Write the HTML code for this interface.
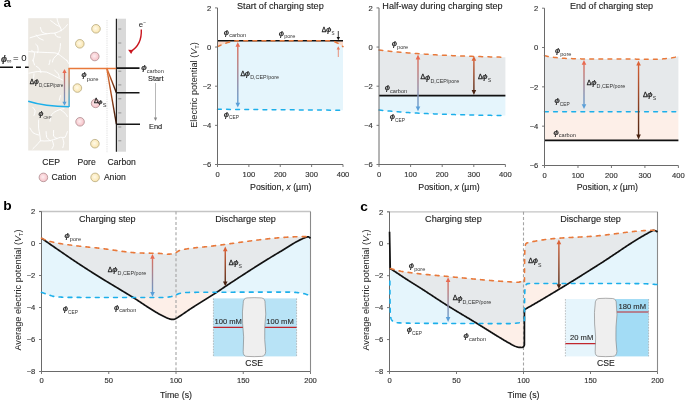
<!DOCTYPE html><html><head><meta charset="utf-8"><style>html,body{margin:0;padding:0;background:#fff;}svg{display:block;will-change:transform;}</style></head><body>
<svg width="685" height="400" viewBox="0 0 685 400" font-family='"Liberation Sans", sans-serif'>
<rect width="685" height="400" fill="#fff"/>
<text transform="translate(3.4 6.6) scale(1.08 1)" font-size="12.5" font-weight="bold" fill="#000">a</text>
<rect x="28.2" y="18.2" width="40.8" height="132.3" fill="#ece8e1"/>
<path d="M50.7 20.6 Q54 23 55.9 24.6 Q59 26 60.5 27.5 Q61.5 29 61.1 30.9" fill="none" stroke="#ffffff" stroke-width="0.95" stroke-linecap="round"/>
<path d="M57 18.3 Q57.5 21 58.2 22.9 Q59 25 60.5 27.5" fill="none" stroke="#ffffff" stroke-width="0.95" stroke-linecap="round"/>
<path d="M67.4 24.6 Q65.5 27 63.9 28.6 Q62.5 29.8 61.1 30.4" fill="none" stroke="#ffffff" stroke-width="0.95" stroke-linecap="round"/>
<path d="M30 37.8 Q34 36.5 37.5 35.5 Q42 34.5 46.7 33.8 Q51 33 54.7 33.2 Q58.5 32 61.1 30.4" fill="none" stroke="#ffffff" stroke-width="0.95" stroke-linecap="round"/>
<path d="M40.4 27.5 Q40.8 30 42.1 32.1 Q44 33.3 46.7 33.8" fill="none" stroke="#ffffff" stroke-width="0.95" stroke-linecap="round"/>
<path d="M36.3 35 Q37.2 36.5 38.6 37.8 Q41 39.3 43.2 40.1" fill="none" stroke="#ffffff" stroke-width="0.95" stroke-linecap="round"/>
<path d="M54.7 33.2 Q55.5 35.5 57 36.7 Q58.8 37.3 60.5 37.3" fill="none" stroke="#ffffff" stroke-width="0.95" stroke-linecap="round"/>
<path d="M28.9 51.6 Q34 52 39.8 52.2 Q47 52.5 54.7 52.8 Q56.5 53.2 58.2 53.9" fill="none" stroke="#ffffff" stroke-width="0.95" stroke-linecap="round"/>
<path d="M35.8 44.2 Q36.8 45 37.5 45.9 Q38.2 48 38.1 50.5 Q38 51.8 37.5 52.8" fill="none" stroke="#ffffff" stroke-width="0.95" stroke-linecap="round"/>
<path d="M31.7 50.5 Q33.5 51.5 34.6 52.8 Q34.6 55 34 57.4 Q33.5 59.3 32.9 60.8" fill="none" stroke="#ffffff" stroke-width="0.95" stroke-linecap="round"/>
<path d="M60.5 43.6 Q60.4 46.5 59.9 49.3 Q59.3 51.8 58.2 53.9 Q55.5 56 53.6 58.5 Q52.6 60.3 52.4 62" fill="none" stroke="#ffffff" stroke-width="0.95" stroke-linecap="round"/>
<path d="M58.2 53.9 Q60.5 55.5 62.8 57.4 Q65.5 59.3 67.4 61.4" fill="none" stroke="#ffffff" stroke-width="0.95" stroke-linecap="round"/>
<path d="M32.9 60 Q33.8 63 34.6 65" fill="none" stroke="#ffffff" stroke-width="0.95" stroke-linecap="round"/>
<path d="M28.9 73.2 Q33 72.2 37.5 71.5 Q42 71.6 46.7 72.1 Q52 74.5 57 77.2 Q60 78.6 62.8 80.1" fill="none" stroke="#ffffff" stroke-width="0.95" stroke-linecap="round"/>
<path d="M36.3 66.3 Q38.3 67.5 39.8 69.2 Q40.6 71 40.9 72.6" fill="none" stroke="#ffffff" stroke-width="0.95" stroke-linecap="round"/>
<path d="M50.1 60 Q49.8 62.5 49 64.6" fill="none" stroke="#ffffff" stroke-width="0.95" stroke-linecap="round"/>
<path d="M54.7 70.3 Q56.8 72 58.2 73.8 Q59 75.5 59.3 77.2" fill="none" stroke="#ffffff" stroke-width="0.95" stroke-linecap="round"/>
<path d="M66.8 60 Q67.8 61.6 68.5 63.4" fill="none" stroke="#ffffff" stroke-width="0.95" stroke-linecap="round"/>
<path d="M34 73.8 Q33.9 76 33.5 78.4" fill="none" stroke="#ffffff" stroke-width="0.95" stroke-linecap="round"/>
<path d="M60.5 95.6 Q59.8 98 59.3 100.2" fill="none" stroke="#ffffff" stroke-width="0.95" stroke-linecap="round"/>
<path d="M32.9 107.4 Q34.5 109 35.2 110.9 Q34.9 113.5 34 115.5" fill="none" stroke="#ffffff" stroke-width="0.95" stroke-linecap="round"/>
<path d="M64 108.6 Q61.5 108.8 59.3 109.7 Q56 111 53.6 112.6 Q51.5 114.5 50.7 116.6 Q50.2 119 50.1 121.2" fill="none" stroke="#ffffff" stroke-width="0.95" stroke-linecap="round"/>
<path d="M60.5 109.7 Q63 111.3 65.1 113.2 Q66.7 114.8 67.4 116.6" fill="none" stroke="#ffffff" stroke-width="0.95" stroke-linecap="round"/>
<path d="M38.6 120.1 Q38.5 124 38.6 128.1 Q39.2 131.5 39.8 135 Q40.3 138 40.4 140.8 Q37.8 143.8 35.2 146.5 Q34 147.8 32.9 148.8" fill="none" stroke="#ffffff" stroke-width="0.95" stroke-linecap="round"/>
<path d="M30 128.1 Q31.2 130.6 32.9 132.7 Q35.5 134.3 38.6 135" fill="none" stroke="#ffffff" stroke-width="0.95" stroke-linecap="round"/>
<path d="M46.1 131.6 Q46.2 134.5 46.7 137.3 Q48.2 139.3 50.1 140.8" fill="none" stroke="#ffffff" stroke-width="0.95" stroke-linecap="round"/>
<path d="M53.6 130.4 Q53.4 133.5 53.6 136.2 Q55 137.8 57 138.5 Q58.8 137.7 60.5 137.3 Q63 137.5 65.1 137.3 Q66.6 134.5 67.4 131.6" fill="none" stroke="#ffffff" stroke-width="0.95" stroke-linecap="round"/>
<path d="M40.4 140.8 Q44.5 141.2 49 140.8 Q51.3 140.3 53.6 139.6 Q55.5 139 57 138.5" fill="none" stroke="#ffffff" stroke-width="0.95" stroke-linecap="round"/>
<path d="M52.4 140.8 Q53.3 143 53.6 145.4 Q52.9 147.3 51.9 148.8" fill="none" stroke="#ffffff" stroke-width="0.95" stroke-linecap="round"/>
<path d="M62.8 138.5 Q63.6 140.8 63.9 143.1 Q63.5 145.5 62.8 147.7" fill="none" stroke="#ffffff" stroke-width="0.95" stroke-linecap="round"/>
<text transform="translate(0.9 61.6) scale(1.25 1)" font-size="8.5" font-style="italic" fill="#222" stroke="#222" stroke-width="0.22">ϕ</text>
<text x="6.8" y="62.5" font-size="6.6" fill="#444">∞</text>
<text x="13.1" y="61.2" font-size="9.6" fill="#222">= 0</text>
<path d="M0 67.25 L13 67.25 M16 67.25 L21 67.25 M25 67.25 L28.7 67.25" stroke="#111" stroke-width="1.5"/>
<path d="M107 20 L107 153" stroke="#c8c8c8" stroke-width="0.7" stroke-dasharray="0.8 1"/>
<rect x="116.4" y="18.7" width="9.6" height="133" fill="#d9d9d9"/>
<path d="M118.3 29 L121.3 29" stroke="#8d8d8d" stroke-width="0.9"/>
<path d="M118.3 43 L121.3 43" stroke="#8d8d8d" stroke-width="0.9"/>
<path d="M118.3 57 L121.3 57" stroke="#8d8d8d" stroke-width="0.9"/>
<path d="M118.3 71.2 L121.3 71.2" stroke="#8d8d8d" stroke-width="0.9"/>
<path d="M118.3 84.9 L121.3 84.9" stroke="#8d8d8d" stroke-width="0.9"/>
<path d="M118.3 98.8 L121.3 98.8" stroke="#8d8d8d" stroke-width="0.9"/>
<path d="M118.3 112.9 L121.3 112.9" stroke="#8d8d8d" stroke-width="0.9"/>
<path d="M118.3 127 L121.3 127" stroke="#8d8d8d" stroke-width="0.9"/>
<path d="M118.3 140.8 L121.3 140.8" stroke="#8d8d8d" stroke-width="0.9"/>
<path d="M116.4 18.7 L116.4 151.7" stroke="#222" stroke-width="1.2"/>
<radialGradient id="gp" cx="0.45" cy="0.45" r="0.6"><stop offset="0" stop-color="#fdeef0"/><stop offset="1" stop-color="#f5bcc3"/></radialGradient>
<radialGradient id="gy" cx="0.45" cy="0.45" r="0.6"><stop offset="0" stop-color="#fffaea"/><stop offset="1" stop-color="#f9e2a6"/></radialGradient>
<circle cx="96" cy="28.8" r="4.3" fill="url(#gy)" stroke="#b3a67a" stroke-width="0.75"/>
<circle cx="79.8" cy="43.8" r="4.3" fill="url(#gy)" stroke="#b3a67a" stroke-width="0.75"/>
<circle cx="94.8" cy="56.5" r="4.3" fill="url(#gp)" stroke="#a98a8c" stroke-width="0.75"/>
<circle cx="77.4" cy="88.05" r="4.3" fill="url(#gy)" stroke="#b3a67a" stroke-width="0.75"/>
<circle cx="95.6" cy="103.4" r="4.3" fill="url(#gp)" stroke="#a98a8c" stroke-width="0.75"/>
<circle cx="80.05" cy="121.8" r="4.3" fill="url(#gp)" stroke="#a98a8c" stroke-width="0.75"/>
<circle cx="94.9" cy="143.7" r="4.3" fill="url(#gy)" stroke="#b3a67a" stroke-width="0.75"/>
<linearGradient id="gv" x1="0" y1="68.5" x2="0" y2="107" gradientUnits="userSpaceOnUse"><stop offset="0" stop-color="#e8793b"/><stop offset="1" stop-color="#29a9e1"/></linearGradient>
<path d="M28.2 101.3 Q45 106.6 69 106.8" fill="none" stroke="#1cafea" stroke-width="1.5"/>
<path d="M69.1 68.5 L69.1 107" stroke="url(#gv)" stroke-width="1.4"/>
<path d="M68.4 68.4 L116.4 68.4" stroke="#e8793b" stroke-width="1.5"/>
<linearGradient id="gd1" x1="0" y1="68" x2="0" y2="92.7" gradientUnits="userSpaceOnUse"><stop offset="0" stop-color="#e8793b"/><stop offset="0.45" stop-color="#a84a1c"/><stop offset="1" stop-color="#2e1206"/></linearGradient>
<linearGradient id="gd2" x1="0" y1="68" x2="0" y2="124.2" gradientUnits="userSpaceOnUse"><stop offset="0" stop-color="#e8793b"/><stop offset="0.45" stop-color="#a84a1c"/><stop offset="1" stop-color="#2e1206"/></linearGradient>
<path d="M106.7 68 L116.4 92.7" fill="none" stroke="url(#gd1)" stroke-width="1.4"/>
<path d="M106.7 68 L116.4 124.2" fill="none" stroke="url(#gd2)" stroke-width="1.4"/>
<path d="M116.4 68.1 L139.5 68.1 M116.4 92.7 L139.5 92.7 M116.4 124.3 L140 124.3" stroke="#151515" stroke-width="1.6"/>
<linearGradient id="ga0" x1="0" y1="69" x2="0" y2="105.8" gradientUnits="userSpaceOnUse"><stop offset="0" stop-color="#e96a50"/><stop offset="1" stop-color="#5a9fd8"/></linearGradient>
<path d="M64.5 72.5 L64.5 102.3" stroke="url(#ga0)" stroke-width="1.3"/>
<path d="M62.4 73 L64.5 69 L66.6 73 Z" fill="#e96a50"/>
<path d="M62.4 101.8 L64.5 105.8 L66.6 101.8 Z" fill="#5a9fd8"/>
<text x="29.8" y="83.8" font-size="6.5" fill="#222" stroke="#222" stroke-width="0.3">Δ</text>
<text transform="translate(33.97 84.15) scale(1.3 1)" font-size="6.67" font-style="italic" fill="#222" stroke="#222" stroke-width="0.2">ϕ</text>
<text x="38.92" y="86.6" font-size="4.6" fill="#333">D,CEP/pore</text>
<text transform="translate(38.62 116.35) scale(1.3 1)" font-size="6.75" font-style="italic" fill="#222" stroke="#222" stroke-width="0.2">ϕ</text>
<text x="43.62" y="118.7" font-size="3.8" fill="#333">CEP</text>
<text transform="translate(81.61 77.25) scale(1.3 1)" font-size="6.99" font-style="italic" fill="#222" stroke="#222" stroke-width="0.2">ϕ</text>
<text x="86.77" y="80.5" font-size="5.8" fill="#333">pore</text>
<text x="93.91" y="103.2" font-size="6.5" fill="#222" stroke="#222" stroke-width="0.3">Δ</text>
<text transform="translate(98.1 103.55) scale(1.3 1)" font-size="6.11" font-style="italic" fill="#222" stroke="#222" stroke-width="0.2">ϕ</text>
<text x="102.66" y="106.5" font-size="5.6" fill="#333">S</text>
<text transform="translate(141.19 69.95) scale(1.3 1)" font-size="7.56" font-style="italic" fill="#222" stroke="#222" stroke-width="0.2">ϕ</text>
<text x="146.73" y="72.9" font-size="5.6" fill="#333">carbon</text>
<text x="148" y="80.8" font-size="7.4" text-anchor="start" fill="#222"  stroke="#222" stroke-width="0.12">Start</text>
<text x="149" y="128.6" font-size="7.4" text-anchor="start" fill="#222"  stroke="#222" stroke-width="0.12">End</text>
<path d="M155.5 83 L155.5 120" stroke="#888" stroke-width="0.6"/>
<path d="M153.8 117.5 L155.5 121 L157.2 117.5 Z" fill="#888"/>
<text x="138.8" y="26.8" font-size="7.8" fill="#222">e<tspan font-size="5" dy="-3">−</tspan></text>
<path d="M141.3 29.5 Q142 45 130.5 51.6" fill="none" stroke="#c9151e" stroke-width="1.4"/>
<path d="M127.9 53.3 L130.2 48.6 L132.6 53.2 Z" fill="#c9151e" transform="rotate(-62 130.2 51)"/>
<text x="42.2" y="165" font-size="8.6" text-anchor="start" fill="#222"  stroke="#222" stroke-width="0.12">CEP</text>
<text x="77.6" y="165" font-size="8.6" text-anchor="start" fill="#222"  stroke="#222" stroke-width="0.12">Pore</text>
<text x="107.6" y="164.6" font-size="8.6" text-anchor="start" fill="#222"  stroke="#222" stroke-width="0.12">Carbon</text>
<circle cx="43.4" cy="177.4" r="4.3" fill="url(#gp)" stroke="#a98a8c" stroke-width="0.75"/>
<text x="51.5" y="180.2" font-size="8.6" text-anchor="start" fill="#222"  stroke="#222" stroke-width="0.12">Cation</text>
<circle cx="95.1" cy="177.4" r="4.3" fill="url(#gy)" stroke="#b3a67a" stroke-width="0.75"/>
<text x="103.9" y="180.2" font-size="8.6" text-anchor="start" fill="#222"  stroke="#222" stroke-width="0.12">Anion</text>
<path d="M217.5 40.79 L280.25 40.79 L343 40.79 L343 110.24 L280.25 109.77 L217.5 109.3 Z" fill="#e5f5fc"/>
<path d="M217.5 40.79 L280.25 40.79 L343 40.79 L343 46.66 L341.75 45.76 L340.49 44.91 L339.24 44.11 L337.98 43.37 L336.73 42.7 L335.47 42.1 L334.22 41.58 L332.96 41.15 L331.7 40.86 L330.45 40.79 L329.19 40.79 L327.94 40.79 L326.69 40.79 L325.43 40.79 L324.18 40.79 L322.92 40.79 L321.67 40.79 L320.41 40.79 L319.15 40.79 L317.9 40.79 L316.64 40.79 L315.39 40.79 L314.13 40.79 L312.88 40.79 L311.62 40.79 L310.37 40.79 L309.12 40.79 L307.86 40.79 L306.61 40.79 L305.35 40.79 L304.1 40.79 L302.84 40.79 L301.58 40.79 L300.33 40.79 L299.07 40.79 L297.82 40.79 L296.56 40.79 L295.31 40.79 L294.06 40.79 L292.8 40.79 L291.55 40.79 L290.29 40.79 L289.03 40.79 L287.78 40.79 L286.52 40.79 L285.27 40.79 L284.01 40.79 L282.76 40.79 L281.5 40.79 L280.25 40.79 L279 40.79 L277.74 40.79 L276.49 40.79 L275.23 40.79 L273.98 40.79 L272.72 40.79 L271.47 40.79 L270.21 40.79 L268.95 40.79 L267.7 40.79 L266.44 40.79 L265.19 40.79 L263.94 40.79 L262.68 40.79 L261.43 40.79 L260.17 40.79 L258.92 40.79 L257.66 40.79 L256.4 40.79 L255.15 40.79 L253.9 40.79 L252.64 40.79 L251.38 40.79 L250.13 40.79 L248.88 40.79 L247.62 40.79 L246.37 40.79 L245.11 40.79 L243.85 40.79 L242.6 40.79 L241.34 40.79 L240.09 40.79 L238.84 40.79 L237.58 40.79 L236.32 40.79 L235.07 40.89 L233.81 41.07 L232.56 41.31 L231.31 41.59 L230.05 41.92 L228.79 42.27 L227.54 42.66 L226.28 43.07 L225.03 43.52 L223.78 43.98 L222.52 44.47 L221.26 44.99 L220.01 45.52 L218.75 46.08 L217.5 46.66 Z" fill="#fbd9c8"/>
<path d="M217.5 40.79 L280.25 40.79 L343 40.79" fill="none" stroke="#111" stroke-width="1.6" stroke-linecap="butt" stroke-linejoin="round"/>
<path d="M217.5 46.66 L218.75 46.08 L220.01 45.52 L221.26 44.99 L222.52 44.47 L223.78 43.98 L225.03 43.52 L226.28 43.07 L227.54 42.66 L228.79 42.27 L230.05 41.92 L231.31 41.59 L232.56 41.31 L233.81 41.07 L235.07 40.89 L236.32 40.79 L237.58 40.79 L238.84 40.79 L240.09 40.79 L241.34 40.79 L242.6 40.79 L243.85 40.79 L245.11 40.79 L246.37 40.79 L247.62 40.79 L248.88 40.79 L250.13 40.79 L251.38 40.79 L252.64 40.79 L253.9 40.79 L255.15 40.79 L256.4 40.79 L257.66 40.79 L258.92 40.79 L260.17 40.79 L261.43 40.79 L262.68 40.79 L263.94 40.79 L265.19 40.79 L266.44 40.79 L267.7 40.79 L268.95 40.79 L270.21 40.79 L271.47 40.79 L272.72 40.79 L273.98 40.79 L275.23 40.79 L276.49 40.79 L277.74 40.79 L279 40.79 L280.25 40.79 L281.5 40.79 L282.76 40.79 L284.01 40.79 L285.27 40.79 L286.52 40.79 L287.78 40.79 L289.03 40.79 L290.29 40.79 L291.55 40.79 L292.8 40.79 L294.06 40.79 L295.31 40.79 L296.56 40.79 L297.82 40.79 L299.07 40.79 L300.33 40.79 L301.58 40.79 L302.84 40.79 L304.1 40.79 L305.35 40.79 L306.61 40.79 L307.86 40.79 L309.12 40.79 L310.37 40.79 L311.62 40.79 L312.88 40.79 L314.13 40.79 L315.39 40.79 L316.64 40.79 L317.9 40.79 L319.15 40.79 L320.41 40.79 L321.67 40.79 L322.92 40.79 L324.18 40.79 L325.43 40.79 L326.69 40.79 L327.94 40.79 L329.19 40.79 L330.45 40.79 L331.7 40.86 L332.96 41.15 L334.22 41.58 L335.47 42.1 L336.73 42.7 L337.98 43.37 L339.24 44.11 L340.49 44.91 L341.75 45.76 L343 46.66" fill="none" stroke="#e8793b" stroke-width="1.5" stroke-dasharray="3.8 5.3" stroke-linecap="round" stroke-linejoin="round"/>
<path d="M217.5 109.3 L280.25 109.77 L343 110.24" fill="none" stroke="#1cafea" stroke-width="1.5" stroke-dasharray="3.8 5.3" stroke-linecap="round" stroke-linejoin="round"/>
<path d="M217.5 7.9 L217.5 164.5 L343 164.5" stroke="#6a6a6a" stroke-width="1" fill="none"/>
<path d="M217.5 164.5 L217.5 167" stroke="#6a6a6a" stroke-width="0.9"/>
<text x="217.5" y="176.7" font-size="7.6" text-anchor="middle" fill="#333" stroke="#333" stroke-width="0.15">0</text>
<path d="M248.88 164.5 L248.88 167" stroke="#6a6a6a" stroke-width="0.9"/>
<text x="248.88" y="176.7" font-size="7.6" text-anchor="middle" fill="#333" stroke="#333" stroke-width="0.15">100</text>
<path d="M280.25 164.5 L280.25 167" stroke="#6a6a6a" stroke-width="0.9"/>
<text x="280.25" y="176.7" font-size="7.6" text-anchor="middle" fill="#333" stroke="#333" stroke-width="0.15">200</text>
<path d="M311.62 164.5 L311.62 167" stroke="#6a6a6a" stroke-width="0.9"/>
<text x="311.62" y="176.7" font-size="7.6" text-anchor="middle" fill="#333" stroke="#333" stroke-width="0.15">300</text>
<path d="M343 164.5 L343 167" stroke="#6a6a6a" stroke-width="0.9"/>
<text x="343" y="176.7" font-size="7.6" text-anchor="middle" fill="#333" stroke="#333" stroke-width="0.15">400</text>
<path d="M215 7.9 L217.5 7.9" stroke="#6a6a6a" stroke-width="0.9"/>
<text x="211.3" y="10.6" font-size="7.6" text-anchor="end" fill="#333" stroke="#333" stroke-width="0.15">2</text>
<path d="M215 47.05 L217.5 47.05" stroke="#6a6a6a" stroke-width="0.9"/>
<text x="211.3" y="49.75" font-size="7.6" text-anchor="end" fill="#333" stroke="#333" stroke-width="0.15">0</text>
<path d="M215 86.2 L217.5 86.2" stroke="#6a6a6a" stroke-width="0.9"/>
<text x="211.3" y="88.9" font-size="7.6" text-anchor="end" fill="#333" stroke="#333" stroke-width="0.15">−2</text>
<path d="M215 125.35 L217.5 125.35" stroke="#6a6a6a" stroke-width="0.9"/>
<text x="211.3" y="128.05" font-size="7.6" text-anchor="end" fill="#333" stroke="#333" stroke-width="0.15">−4</text>
<path d="M215 164.5 L217.5 164.5" stroke="#6a6a6a" stroke-width="0.9"/>
<text x="211.3" y="167.2" font-size="7.6" text-anchor="end" fill="#333" stroke="#333" stroke-width="0.15">−6</text>
<text x="280.4" y="8.9" font-size="9.15" text-anchor="middle" fill="#222"  stroke="#222" stroke-width="0.12">Start of charging step</text>
<text x="280.75" y="189.7" font-size="8.8" text-anchor="middle" fill="#222"  stroke="#222" stroke-width="0.12">Position, <tspan font-style="italic">x</tspan> (µm)</text>
<text transform="translate(197.2 85) rotate(-90)" font-size="9.2" fill="#222" text-anchor="middle">Electric potential (<tspan font-style="italic">V</tspan><tspan font-size="5.5" dy="1.5">T</tspan><tspan dy="-1.5">)</tspan></text>
<linearGradient id="ga1" x1="0" y1="42" x2="0" y2="107.6" gradientUnits="userSpaceOnUse"><stop offset="0" stop-color="#e96a50"/><stop offset="1" stop-color="#5a9fd8"/></linearGradient>
<path d="M237.8 46.3 L237.8 103.3" stroke="url(#ga1)" stroke-width="1.4"/>
<path d="M235.5 46.8 L237.8 42 L240.1 46.8 Z" fill="#e96a50"/>
<path d="M235.5 102.8 L237.8 107.6 L240.1 102.8 Z" fill="#5a9fd8"/>
<text transform="translate(223.8 34.95) scale(1.3 1)" font-size="7.23" font-style="italic" fill="#222" stroke="#222" stroke-width="0.2">ϕ</text>
<text x="229.13" y="37.35" font-size="5.6" fill="#333">carbon</text>
<text transform="translate(278.8 35.75) scale(1.3 1)" font-size="7.23" font-style="italic" fill="#222" stroke="#222" stroke-width="0.2">ϕ</text>
<text x="284.13" y="38.2" font-size="5.6" fill="#333">pore</text>
<text x="240.39" y="75.8" font-size="7" fill="#222" stroke="#222" stroke-width="0.3">Δ</text>
<text transform="translate(244.86 76.15) scale(1.3 1)" font-size="7.23" font-style="italic" fill="#222" stroke="#222" stroke-width="0.2">ϕ</text>
<text x="250.18" y="79.2" font-size="5.4" fill="#333">D,CEP/pore</text>
<text transform="translate(223.7 116.95) scale(1.3 1)" font-size="7.23" font-style="italic" fill="#222" stroke="#222" stroke-width="0.2">ϕ</text>
<text x="229.03" y="119.25" font-size="4.8" fill="#333">CEP</text>
<text x="321.8" y="31.6" font-size="6.6" fill="#222" stroke="#222" stroke-width="0.3">Δ</text>
<text transform="translate(326.01 31.95) scale(1.3 1)" font-size="7.4" font-style="italic" fill="#222" stroke="#222" stroke-width="0.2">ϕ</text>
<text x="331.44" y="34.5" font-size="4.5" fill="#333">S</text>
<path d="M338.3 31 L338.3 38" stroke="#111" stroke-width="0.8"/><path d="M336.6 37 L338.3 40.2 L340 37 Z" fill="#111"/>
<path d="M338.3 57 L338.3 49" stroke="#e8795a" stroke-width="0.8"/><path d="M336.6 49.5 L338.3 46.3 L340 49.5 Z" fill="#e8795a"/>
<path d="M379 49.99 L381.11 50.24 L383.21 50.49 L385.32 50.74 L387.43 50.97 L389.53 51.2 L391.64 51.42 L393.75 51.64 L395.85 51.85 L397.96 52.05 L400.07 52.25 L402.17 52.44 L404.28 52.62 L406.39 52.8 L408.49 52.98 L410.6 53.14 L412.71 53.31 L414.81 53.47 L416.92 53.62 L419.03 53.77 L421.13 53.92 L423.24 54.06 L425.35 54.19 L427.45 54.33 L429.56 54.45 L431.67 54.58 L433.77 54.7 L435.88 54.82 L437.99 54.93 L440.09 55.04 L442.2 55.15 L444.31 55.25 L446.41 55.35 L448.52 55.45 L450.63 55.55 L452.73 55.64 L454.84 55.73 L456.95 55.81 L459.05 55.9 L461.16 55.98 L463.27 56.06 L465.37 56.14 L467.48 56.21 L469.59 56.28 L471.69 56.35 L473.8 56.42 L475.91 56.49 L478.01 56.55 L480.12 56.61 L482.23 56.67 L484.33 56.73 L486.44 56.79 L488.55 56.84 L490.65 56.9 L492.76 56.95 L494.87 57 L496.97 57.05 L499.08 57.1 L501.19 57.14 L503.29 57.19 L505.4 57.23 L505.4 95.6 L442.2 95.6 L379 95.6 Z" fill="#e6e9eb"/>
<path d="M379 95.6 L442.2 95.6 L505.4 95.6 L505.4 115.56 L503.29 115.54 L501.19 115.51 L499.08 115.48 L496.97 115.46 L494.87 115.43 L492.76 115.4 L490.65 115.37 L488.55 115.33 L486.44 115.3 L484.33 115.26 L482.23 115.23 L480.12 115.19 L478.01 115.15 L475.91 115.11 L473.8 115.07 L471.69 115.02 L469.59 114.98 L467.48 114.93 L465.37 114.88 L463.27 114.83 L461.16 114.78 L459.05 114.72 L456.95 114.67 L454.84 114.61 L452.73 114.55 L450.63 114.48 L448.52 114.42 L446.41 114.35 L444.31 114.28 L442.2 114.21 L440.09 114.13 L437.99 114.05 L435.88 113.97 L433.77 113.88 L431.67 113.79 L429.56 113.7 L427.45 113.61 L425.35 113.51 L423.24 113.4 L421.13 113.3 L419.03 113.19 L416.92 113.07 L414.81 112.95 L412.71 112.83 L410.6 112.7 L408.49 112.57 L406.39 112.43 L404.28 112.29 L402.17 112.14 L400.07 111.98 L397.96 111.82 L395.85 111.66 L393.75 111.49 L391.64 111.31 L389.53 111.12 L387.43 110.93 L385.32 110.73 L383.21 110.52 L381.11 110.31 L379 110.08 Z" fill="#e5f5fc"/>
<path d="M379 95.6 L442.2 95.6 L505.4 95.6" fill="none" stroke="#111" stroke-width="1.6" stroke-linecap="butt" stroke-linejoin="round"/>
<path d="M379 49.99 L381.11 50.24 L383.21 50.49 L385.32 50.74 L387.43 50.97 L389.53 51.2 L391.64 51.42 L393.75 51.64 L395.85 51.85 L397.96 52.05 L400.07 52.25 L402.17 52.44 L404.28 52.62 L406.39 52.8 L408.49 52.98 L410.6 53.14 L412.71 53.31 L414.81 53.47 L416.92 53.62 L419.03 53.77 L421.13 53.92 L423.24 54.06 L425.35 54.19 L427.45 54.33 L429.56 54.45 L431.67 54.58 L433.77 54.7 L435.88 54.82 L437.99 54.93 L440.09 55.04 L442.2 55.15 L444.31 55.25 L446.41 55.35 L448.52 55.45 L450.63 55.55 L452.73 55.64 L454.84 55.73 L456.95 55.81 L459.05 55.9 L461.16 55.98 L463.27 56.06 L465.37 56.14 L467.48 56.21 L469.59 56.28 L471.69 56.35 L473.8 56.42 L475.91 56.49 L478.01 56.55 L480.12 56.61 L482.23 56.67 L484.33 56.73 L486.44 56.79 L488.55 56.84 L490.65 56.9 L492.76 56.95 L494.87 57 L496.97 57.05 L499.08 57.1 L501.19 57.14 L503.29 57.19 L505.4 57.23" fill="none" stroke="#e8793b" stroke-width="1.5" stroke-dasharray="3.8 5.3" stroke-linecap="round" stroke-linejoin="round"/>
<path d="M379 110.08 L381.11 110.31 L383.21 110.52 L385.32 110.73 L387.43 110.93 L389.53 111.12 L391.64 111.31 L393.75 111.49 L395.85 111.66 L397.96 111.82 L400.07 111.98 L402.17 112.14 L404.28 112.29 L406.39 112.43 L408.49 112.57 L410.6 112.7 L412.71 112.83 L414.81 112.95 L416.92 113.07 L419.03 113.19 L421.13 113.3 L423.24 113.4 L425.35 113.51 L427.45 113.61 L429.56 113.7 L431.67 113.79 L433.77 113.88 L435.88 113.97 L437.99 114.05 L440.09 114.13 L442.2 114.21 L444.31 114.28 L446.41 114.35 L448.52 114.42 L450.63 114.48 L452.73 114.55 L454.84 114.61 L456.95 114.67 L459.05 114.72 L461.16 114.78 L463.27 114.83 L465.37 114.88 L467.48 114.93 L469.59 114.98 L471.69 115.02 L473.8 115.07 L475.91 115.11 L478.01 115.15 L480.12 115.19 L482.23 115.23 L484.33 115.26 L486.44 115.3 L488.55 115.33 L490.65 115.37 L492.76 115.4 L494.87 115.43 L496.97 115.46 L499.08 115.48 L501.19 115.51 L503.29 115.54 L505.4 115.56" fill="none" stroke="#1cafea" stroke-width="1.5" stroke-dasharray="3.8 5.3" stroke-linecap="round" stroke-linejoin="round"/>
<path d="M379 7.9 L379 164.5 L505.4 164.5" stroke="#6a6a6a" stroke-width="1" fill="none"/>
<path d="M379 164.5 L379 167" stroke="#6a6a6a" stroke-width="0.9"/>
<text x="379" y="176.7" font-size="7.6" text-anchor="middle" fill="#333" stroke="#333" stroke-width="0.15">0</text>
<path d="M410.6 164.5 L410.6 167" stroke="#6a6a6a" stroke-width="0.9"/>
<text x="410.6" y="176.7" font-size="7.6" text-anchor="middle" fill="#333" stroke="#333" stroke-width="0.15">100</text>
<path d="M442.2 164.5 L442.2 167" stroke="#6a6a6a" stroke-width="0.9"/>
<text x="442.2" y="176.7" font-size="7.6" text-anchor="middle" fill="#333" stroke="#333" stroke-width="0.15">200</text>
<path d="M473.8 164.5 L473.8 167" stroke="#6a6a6a" stroke-width="0.9"/>
<text x="473.8" y="176.7" font-size="7.6" text-anchor="middle" fill="#333" stroke="#333" stroke-width="0.15">300</text>
<path d="M505.4 164.5 L505.4 167" stroke="#6a6a6a" stroke-width="0.9"/>
<text x="505.4" y="176.7" font-size="7.6" text-anchor="middle" fill="#333" stroke="#333" stroke-width="0.15">400</text>
<path d="M376.5 7.9 L379 7.9" stroke="#6a6a6a" stroke-width="0.9"/>
<text x="372.8" y="10.6" font-size="7.6" text-anchor="end" fill="#333" stroke="#333" stroke-width="0.15">2</text>
<path d="M376.5 47.05 L379 47.05" stroke="#6a6a6a" stroke-width="0.9"/>
<text x="372.8" y="49.75" font-size="7.6" text-anchor="end" fill="#333" stroke="#333" stroke-width="0.15">0</text>
<path d="M376.5 86.2 L379 86.2" stroke="#6a6a6a" stroke-width="0.9"/>
<text x="372.8" y="88.9" font-size="7.6" text-anchor="end" fill="#333" stroke="#333" stroke-width="0.15">−2</text>
<path d="M376.5 125.35 L379 125.35" stroke="#6a6a6a" stroke-width="0.9"/>
<text x="372.8" y="128.05" font-size="7.6" text-anchor="end" fill="#333" stroke="#333" stroke-width="0.15">−4</text>
<path d="M376.5 164.5 L379 164.5" stroke="#6a6a6a" stroke-width="0.9"/>
<text x="372.8" y="167.2" font-size="7.6" text-anchor="end" fill="#333" stroke="#333" stroke-width="0.15">−6</text>
<text x="442.5" y="9.1" font-size="9.1" text-anchor="middle" fill="#222"  stroke="#222" stroke-width="0.12">Half-way during charging step</text>
<text x="449" y="189.7" font-size="8.8" text-anchor="middle" fill="#222"  stroke="#222" stroke-width="0.12">Position, <tspan font-style="italic">x</tspan> (µm)</text>
<linearGradient id="ga2" x1="0" y1="54.6" x2="0" y2="111.2" gradientUnits="userSpaceOnUse"><stop offset="0" stop-color="#e96a50"/><stop offset="1" stop-color="#5a9fd8"/></linearGradient>
<path d="M418 58.9 L418 106.9" stroke="url(#ga2)" stroke-width="1.4"/>
<path d="M415.7 59.4 L418 54.6 L420.3 59.4 Z" fill="#e96a50"/>
<path d="M415.7 106.4 L418 111.2 L420.3 106.4 Z" fill="#5a9fd8"/>
<linearGradient id="ga3" x1="0" y1="55.9" x2="0" y2="94.9" gradientUnits="userSpaceOnUse"><stop offset="0" stop-color="#dc6236"/><stop offset="1" stop-color="#4a2412"/></linearGradient>
<path d="M473.9 60.2 L473.9 90.6" stroke="url(#ga3)" stroke-width="1.4"/>
<path d="M471.6 60.7 L473.9 55.9 L476.2 60.7 Z" fill="#dc6236"/>
<path d="M471.6 90.1 L473.9 94.9 L476.2 90.1 Z" fill="#4a2412"/>
<text transform="translate(391.7 46.15) scale(1.3 1)" font-size="7.23" font-style="italic" fill="#222" stroke="#222" stroke-width="0.2">ϕ</text>
<text x="397.03" y="48.8" font-size="5.6" fill="#333">pore</text>
<text x="420.59" y="79.2" font-size="7" fill="#222" stroke="#222" stroke-width="0.3">Δ</text>
<text transform="translate(425.06 79.55) scale(1.3 1)" font-size="7.23" font-style="italic" fill="#222" stroke="#222" stroke-width="0.2">ϕ</text>
<text x="430.38" y="82.85" font-size="5.4" fill="#333">D,CEP/pore</text>
<text x="477.89" y="78.6" font-size="7" fill="#222" stroke="#222" stroke-width="0.3">Δ</text>
<text transform="translate(482.36 78.95) scale(1.3 1)" font-size="7.23" font-style="italic" fill="#222" stroke="#222" stroke-width="0.2">ϕ</text>
<text x="487.68" y="81.7" font-size="5.2" fill="#333">S</text>
<text transform="translate(384.7 90.45) scale(1.3 1)" font-size="7.23" font-style="italic" fill="#222" stroke="#222" stroke-width="0.2">ϕ</text>
<text x="390.03" y="92.8" font-size="5.6" fill="#333">carbon</text>
<text transform="translate(389.7 118.75) scale(1.3 1)" font-size="7.23" font-style="italic" fill="#222" stroke="#222" stroke-width="0.2">ϕ</text>
<text x="395.03" y="121.9" font-size="4.8" fill="#333">CEP</text>
<path d="M544.5 55.62 L546.17 56.04 L547.85 56.43 L549.52 56.75 L551.2 57 L552.87 57.22 L554.54 57.43 L556.22 57.62 L557.89 57.8 L559.56 57.95 L561.24 58.09 L562.91 58.21 L564.59 58.3 L566.26 58.38 L567.93 58.46 L569.61 58.53 L571.28 58.6 L572.95 58.66 L574.63 58.72 L576.3 58.77 L577.98 58.81 L579.65 58.85 L581.32 58.88 L583 58.91 L584.67 58.92 L586.34 58.93 L588.02 58.94 L589.69 58.95 L591.37 58.95 L593.04 58.96 L594.71 58.97 L596.39 58.97 L598.06 58.97 L599.73 58.98 L601.41 58.98 L603.08 58.98 L604.75 58.99 L606.43 58.99 L608.1 58.99 L609.78 59 L611.45 59 L613.12 59 L614.8 59.01 L616.47 59.01 L618.14 59.02 L619.82 59.02 L621.49 59.03 L623.17 59.04 L624.84 59.05 L626.51 59.06 L628.19 59.07 L629.86 59.08 L631.53 59.09 L633.21 59.11 L634.88 59.12 L636.56 59.13 L638.23 59.14 L639.9 59.16 L641.58 59.17 L643.25 59.18 L644.92 59.19 L646.6 59.2 L648.27 59.21 L649.95 59.21 L651.62 59.22 L653.29 59.22 L654.97 59.22 L656.64 59.22 L658.31 59.18 L659.99 59.1 L661.66 58.98 L663.34 58.85 L665.01 58.71 L666.68 58.56 L668.36 58.37 L670.03 58.14 L671.7 57.88 L673.38 57.56 L675.05 57.17 L676.73 56.72 L678.4 56.22 L678.4 111.82 L611.45 111.82 L544.5 111.82 Z" fill="#e6e9eb"/>
<path d="M544.5 111.82 L611.45 111.82 L678.4 111.82 L678.4 140.33 L611.45 140.33 L544.5 140.33 Z" fill="#fdefe8"/>
<path d="M544.5 140.33 L611.45 140.33 L678.4 140.33" fill="none" stroke="#111" stroke-width="1.6" stroke-linecap="butt" stroke-linejoin="round"/>
<path d="M544.5 55.62 L546.17 56.04 L547.85 56.43 L549.52 56.75 L551.2 57 L552.87 57.22 L554.54 57.43 L556.22 57.62 L557.89 57.8 L559.56 57.95 L561.24 58.09 L562.91 58.21 L564.59 58.3 L566.26 58.38 L567.93 58.46 L569.61 58.53 L571.28 58.6 L572.95 58.66 L574.63 58.72 L576.3 58.77 L577.98 58.81 L579.65 58.85 L581.32 58.88 L583 58.91 L584.67 58.92 L586.34 58.93 L588.02 58.94 L589.69 58.95 L591.37 58.95 L593.04 58.96 L594.71 58.97 L596.39 58.97 L598.06 58.97 L599.73 58.98 L601.41 58.98 L603.08 58.98 L604.75 58.99 L606.43 58.99 L608.1 58.99 L609.78 59 L611.45 59 L613.12 59 L614.8 59.01 L616.47 59.01 L618.14 59.02 L619.82 59.02 L621.49 59.03 L623.17 59.04 L624.84 59.05 L626.51 59.06 L628.19 59.07 L629.86 59.08 L631.53 59.09 L633.21 59.11 L634.88 59.12 L636.56 59.13 L638.23 59.14 L639.9 59.16 L641.58 59.17 L643.25 59.18 L644.92 59.19 L646.6 59.2 L648.27 59.21 L649.95 59.21 L651.62 59.22 L653.29 59.22 L654.97 59.22 L656.64 59.22 L658.31 59.18 L659.99 59.1 L661.66 58.98 L663.34 58.85 L665.01 58.71 L666.68 58.56 L668.36 58.37 L670.03 58.14 L671.7 57.88 L673.38 57.56 L675.05 57.17 L676.73 56.72 L678.4 56.22" fill="none" stroke="#e8793b" stroke-width="1.5" stroke-dasharray="3.8 5.3" stroke-linecap="round" stroke-linejoin="round"/>
<path d="M544.5 111.82 L611.45 111.82 L678.4 111.82" fill="none" stroke="#1cafea" stroke-width="1.5" stroke-dasharray="3.8 5.3" stroke-linecap="round" stroke-linejoin="round"/>
<path d="M544.5 8.2 L544.5 165.5 L678.4 165.5" stroke="#6a6a6a" stroke-width="1" fill="none"/>
<path d="M544.5 165.5 L544.5 168" stroke="#6a6a6a" stroke-width="0.9"/>
<text x="544.5" y="177.7" font-size="7.6" text-anchor="middle" fill="#333" stroke="#333" stroke-width="0.15">0</text>
<path d="M577.98 165.5 L577.98 168" stroke="#6a6a6a" stroke-width="0.9"/>
<text x="577.98" y="177.7" font-size="7.6" text-anchor="middle" fill="#333" stroke="#333" stroke-width="0.15">100</text>
<path d="M611.45 165.5 L611.45 168" stroke="#6a6a6a" stroke-width="0.9"/>
<text x="611.45" y="177.7" font-size="7.6" text-anchor="middle" fill="#333" stroke="#333" stroke-width="0.15">200</text>
<path d="M644.92 165.5 L644.92 168" stroke="#6a6a6a" stroke-width="0.9"/>
<text x="644.92" y="177.7" font-size="7.6" text-anchor="middle" fill="#333" stroke="#333" stroke-width="0.15">300</text>
<path d="M678.4 165.5 L678.4 168" stroke="#6a6a6a" stroke-width="0.9"/>
<text x="678.4" y="177.7" font-size="7.6" text-anchor="middle" fill="#333" stroke="#333" stroke-width="0.15">400</text>
<path d="M542 8.2 L544.5 8.2" stroke="#6a6a6a" stroke-width="0.9"/>
<text x="538.3" y="10.9" font-size="7.6" text-anchor="end" fill="#333" stroke="#333" stroke-width="0.15">2</text>
<path d="M542 47.52 L544.5 47.52" stroke="#6a6a6a" stroke-width="0.9"/>
<text x="538.3" y="50.22" font-size="7.6" text-anchor="end" fill="#333" stroke="#333" stroke-width="0.15">0</text>
<path d="M542 86.85 L544.5 86.85" stroke="#6a6a6a" stroke-width="0.9"/>
<text x="538.3" y="89.55" font-size="7.6" text-anchor="end" fill="#333" stroke="#333" stroke-width="0.15">−2</text>
<path d="M542 126.17 L544.5 126.17" stroke="#6a6a6a" stroke-width="0.9"/>
<text x="538.3" y="128.88" font-size="7.6" text-anchor="end" fill="#333" stroke="#333" stroke-width="0.15">−4</text>
<path d="M542 165.5 L544.5 165.5" stroke="#6a6a6a" stroke-width="0.9"/>
<text x="538.3" y="168.2" font-size="7.6" text-anchor="end" fill="#333" stroke="#333" stroke-width="0.15">−6</text>
<text x="611.5" y="9" font-size="9.05" text-anchor="middle" fill="#222"  stroke="#222" stroke-width="0.12">End of charging step</text>
<text x="607.4" y="189.7" font-size="8.8" text-anchor="middle" fill="#222"  stroke="#222" stroke-width="0.12">Position, <tspan font-style="italic">x</tspan> (µm)</text>
<linearGradient id="ga4" x1="0" y1="60" x2="0" y2="109" gradientUnits="userSpaceOnUse"><stop offset="0" stop-color="#e96a50"/><stop offset="1" stop-color="#5a9fd8"/></linearGradient>
<path d="M584 64.3 L584 104.7" stroke="url(#ga4)" stroke-width="1.4"/>
<path d="M581.7 64.8 L584 60 L586.3 64.8 Z" fill="#e96a50"/>
<path d="M581.7 104.2 L584 109 L586.3 104.2 Z" fill="#5a9fd8"/>
<linearGradient id="ga5" x1="0" y1="60.65" x2="0" y2="139.4" gradientUnits="userSpaceOnUse"><stop offset="0" stop-color="#dc6236"/><stop offset="1" stop-color="#4a2412"/></linearGradient>
<path d="M638.55 64.95 L638.55 135.1" stroke="url(#ga5)" stroke-width="1.4"/>
<path d="M636.25 65.45 L638.55 60.65 L640.85 65.45 Z" fill="#dc6236"/>
<path d="M636.25 134.6 L638.55 139.4 L640.85 134.6 Z" fill="#4a2412"/>
<text transform="translate(554.9 53.25) scale(1.3 1)" font-size="7.23" font-style="italic" fill="#222" stroke="#222" stroke-width="0.2">ϕ</text>
<text x="560.23" y="56.3" font-size="5.6" fill="#333">pore</text>
<text x="586.79" y="84.8" font-size="7" fill="#222" stroke="#222" stroke-width="0.3">Δ</text>
<text transform="translate(591.26 85.15) scale(1.3 1)" font-size="7.23" font-style="italic" fill="#222" stroke="#222" stroke-width="0.2">ϕ</text>
<text x="596.58" y="87.6" font-size="5.4" fill="#333">D,CEP/pore</text>
<text x="642.89" y="97.1" font-size="7" fill="#222" stroke="#222" stroke-width="0.3">Δ</text>
<text transform="translate(647.36 97.45) scale(1.3 1)" font-size="7.23" font-style="italic" fill="#222" stroke="#222" stroke-width="0.2">ϕ</text>
<text x="652.68" y="100.1" font-size="5.2" fill="#333">S</text>
<text transform="translate(554.45 103.45) scale(1.3 1)" font-size="7.23" font-style="italic" fill="#222" stroke="#222" stroke-width="0.2">ϕ</text>
<text x="559.78" y="106" font-size="4.8" fill="#333">CEP</text>
<text transform="translate(553.45 134.75) scale(1.3 1)" font-size="7.23" font-style="italic" fill="#222" stroke="#222" stroke-width="0.2">ϕ</text>
<text x="558.78" y="137.25" font-size="5.6" fill="#333">carbon</text>
<path d="M41.5 238.2 L42.5 238.9 L43.5 239.6 L44.5 240.3 L45.5 241 L46.5 241.7 L47.5 242.4 L48.5 243.1 L49.5 243.79 L50.5 244.49 L51.5 245.18 L52.5 245.88 L53.5 246.57 L54.5 247.26 L55.5 247.95 L56.5 248.65 L57.5 249.34 L58.5 250.03 L59.5 250.72 L60.5 251.41 L61.5 252.1 L62.5 252.79 L63.5 253.48 L64.5 254.17 L65.5 254.86 L66.5 255.55 L67.5 256.23 L68.5 256.92 L69.5 257.6 L70.5 258.28 L71.5 258.95 L72.5 259.63 L73.5 260.3 L74.5 260.97 L75.5 261.63 L76.5 262.29 L77.5 262.96 L78.5 263.62 L79.5 264.27 L80.5 264.93 L81.5 265.58 L82.5 266.24 L83.5 266.89 L84.5 267.54 L85.5 268.19 L86.5 268.83 L87.5 269.48 L88.5 270.12 L89.5 270.76 L90.5 271.4 L91.5 272.04 L92.5 272.68 L93.5 273.31 L94.5 273.95 L95.5 274.58 L96.5 275.21 L97.5 275.84 L98.5 276.46 L99.5 277.09 L100.5 277.71 L101.5 278.33 L102.5 278.95 L103.5 279.56 L104.5 280.17 L105.5 280.78 L106.5 281.38 L107.5 281.99 L108.5 282.59 L109.5 283.19 L110.5 283.79 L111.5 284.39 L112.5 284.99 L113.5 285.59 L114.5 286.19 L115.5 286.79 L116.5 287.39 L117.5 287.99 L118.5 288.59 L119.5 289.2 L120.5 289.8 L121.5 290.41 L122.5 291.01 L123.5 291.61 L124.5 292.21 L125.5 292.81 L126.5 293.41 L127.5 294.02 L128.5 294.62 L129.5 295.23 L130.5 295.85 L131.5 296.46 L132.5 297.09 L133.5 297.49 L134.5 297.5 L135.5 297.5 L136.5 297.5 L137.5 297.5 L138.5 297.5 L139.5 297.5 L140.5 297.5 L141.5 297.5 L142.5 297.5 L143.5 297.5 L144.5 297.5 L145.5 297.5 L146.5 297.5 L147.5 297.5 L148.5 297.5 L149.5 297.5 L150.5 297.5 L151.5 297.5 L152.5 297.5 L153.5 297.5 L154.5 297.5 L155.5 297.5 L156.5 297.5 L157.5 297.5 L158.5 297.5 L159.5 297.5 L160.5 297.5 L161.5 297.48 L162.5 297.46 L163.5 297.42 L164.5 297.38 L165.5 297.33 L166.5 297.27 L167.5 297.17 L168.5 297.04 L169.5 296.88 L170.5 296.7 L171.5 296.49 L172.5 296.21 L173.5 295.87 L174.5 295.49 L175.5 295.11 L176.5 294.72 L177.5 294.25 L178.5 293.8 L179.5 293.43 L180.5 293.2 L181.5 293.01 L182.5 292.84 L183.5 292.7 L184.5 292.59 L185.5 292.52 L186.5 292.49 L187.5 292.46 L188.5 292.44 L189.5 292.41 L190.5 292.4 L191.5 292.38 L192.5 292.36 L193.5 292.35 L194.5 292.34 L195.5 292.33 L196.5 292.32 L197.5 292.31 L198.5 292.31 L199.5 292.3 L200.5 292.3 L201.5 292.29 L202.5 292.29 L203.5 292.28 L204.5 292.28 L205.5 292.28 L206.5 292.27 L207.5 292.27 L208.5 292.26 L209.5 292.26 L210.5 292.25 L211.5 292.25 L212.5 292.25 L213.5 292.24 L214.5 292.24 L215.5 292.23 L216.5 292.23 L217.5 291.8 L218.5 291.14 L219.5 290.46 L220.5 289.77 L221.5 289.08 L222.5 288.4 L223.5 287.71 L224.5 287.03 L225.5 286.37 L226.5 285.71 L227.5 285.05 L228.5 284.39 L229.5 283.73 L230.5 283.07 L231.5 282.41 L232.5 281.75 L233.5 281.09 L234.5 280.43 L235.5 279.78 L236.5 279.12 L237.5 278.47 L238.5 277.81 L239.5 277.16 L240.5 276.51 L241.5 275.86 L242.5 275.2 L243.5 274.55 L244.5 273.91 L245.5 273.26 L246.5 272.61 L247.5 271.97 L248.5 271.32 L249.5 270.68 L250.5 270.04 L251.5 269.4 L252.5 268.76 L253.5 268.12 L254.5 267.48 L255.5 266.84 L256.5 266.21 L257.5 265.58 L258.5 264.95 L259.5 264.32 L260.5 263.69 L261.5 263.06 L262.5 262.44 L263.5 261.81 L264.5 261.19 L265.5 260.57 L266.5 259.95 L267.5 259.34 L268.5 258.72 L269.5 258.11 L270.5 257.5 L271.5 256.89 L272.5 256.28 L273.5 255.68 L274.5 255.08 L275.5 254.48 L276.5 253.88 L277.5 253.28 L278.5 252.69 L279.5 252.1 L280.5 251.5 L281.5 250.9 L282.5 250.29 L283.5 249.68 L284.5 249.05 L285.5 248.42 L286.5 247.79 L287.5 247.16 L288.5 246.53 L289.5 245.91 L290.5 245.28 L291.5 244.66 L292.5 244.05 L293.5 243.45 L294.5 242.86 L295.5 242.28 L296.5 241.72 L297.5 241.17 L298.5 240.64 L299.5 240.13 L300.5 239.64 L301.5 239.18 L302.5 238.73 L303.5 238.32 L304.5 237.93 L305.5 237.56 L306.5 237.19 L307.5 236.88 L308.5 236.84 L309.5 237.39 L310.5 238.4 L310.5 295.8 L309.5 295.43 L308.5 295.07 L307.5 294.72 L306.5 294.4 L305.5 294.09 L304.5 293.81 L303.5 293.55 L302.5 293.32 L301.5 293.13 L300.5 292.97 L299.5 292.84 L298.5 292.72 L297.5 292.6 L296.5 292.49 L295.5 292.39 L294.5 292.3 L293.5 292.23 L292.5 292.17 L291.5 292.12 L290.5 292.1 L289.5 292.1 L288.5 292.1 L287.5 292.1 L286.5 292.1 L285.5 292.1 L284.5 292.1 L283.5 292.1 L282.5 292.1 L281.5 292.1 L280.5 292.1 L279.5 292.1 L278.5 292.1 L277.5 292.1 L276.5 292.1 L275.5 292.1 L274.5 292.11 L273.5 292.11 L272.5 292.11 L271.5 292.11 L270.5 292.11 L269.5 292.11 L268.5 292.11 L267.5 292.11 L266.5 292.11 L265.5 292.11 L264.5 292.11 L263.5 292.12 L262.5 292.12 L261.5 292.12 L260.5 292.12 L259.5 292.12 L258.5 292.12 L257.5 292.12 L256.5 292.13 L255.5 292.13 L254.5 292.13 L253.5 292.13 L252.5 292.13 L251.5 292.13 L250.5 292.14 L249.5 292.14 L248.5 292.14 L247.5 292.14 L246.5 292.14 L245.5 292.15 L244.5 292.15 L243.5 292.15 L242.5 292.15 L241.5 292.16 L240.5 292.16 L239.5 292.16 L238.5 292.16 L237.5 292.17 L236.5 292.17 L235.5 292.17 L234.5 292.17 L233.5 292.18 L232.5 292.18 L231.5 292.18 L230.5 292.18 L229.5 292.19 L228.5 292.19 L227.5 292.19 L226.5 292.2 L225.5 292.2 L224.5 292.2 L223.5 292.21 L222.5 292.21 L221.5 292.21 L220.5 292.22 L219.5 292.22 L218.5 292.22 L217.5 292.23 L216.5 292.23 L215.5 292.23 L214.5 292.24 L213.5 292.24 L212.5 292.25 L211.5 292.25 L210.5 292.25 L209.5 292.26 L208.5 292.26 L207.5 292.27 L206.5 292.27 L205.5 292.28 L204.5 292.28 L203.5 292.28 L202.5 292.29 L201.5 292.29 L200.5 292.3 L199.5 292.3 L198.5 292.31 L197.5 292.31 L196.5 292.32 L195.5 292.33 L194.5 292.34 L193.5 292.35 L192.5 292.36 L191.5 292.38 L190.5 292.4 L189.5 292.41 L188.5 292.44 L187.5 292.46 L186.5 292.49 L185.5 292.52 L184.5 292.59 L183.5 292.7 L182.5 292.84 L181.5 293.01 L180.5 293.2 L179.5 293.43 L178.5 293.8 L177.5 294.25 L176.5 294.72 L175.5 295.11 L174.5 295.49 L173.5 295.87 L172.5 296.21 L171.5 296.49 L170.5 296.7 L169.5 296.88 L168.5 297.04 L167.5 297.17 L166.5 297.27 L165.5 297.33 L164.5 297.38 L163.5 297.42 L162.5 297.46 L161.5 297.48 L160.5 297.5 L159.5 297.5 L158.5 297.5 L157.5 297.5 L156.5 297.5 L155.5 297.5 L154.5 297.5 L153.5 297.5 L152.5 297.5 L151.5 297.5 L150.5 297.5 L149.5 297.5 L148.5 297.5 L147.5 297.5 L146.5 297.5 L145.5 297.5 L144.5 297.5 L143.5 297.5 L142.5 297.5 L141.5 297.5 L140.5 297.5 L139.5 297.5 L138.5 297.5 L137.5 297.5 L136.5 297.5 L135.5 297.5 L134.5 297.5 L133.5 297.49 L132.5 297.49 L131.5 297.49 L130.5 297.49 L129.5 297.49 L128.5 297.49 L127.5 297.49 L126.5 297.49 L125.5 297.49 L124.5 297.49 L123.5 297.49 L122.5 297.49 L121.5 297.49 L120.5 297.49 L119.5 297.49 L118.5 297.48 L117.5 297.48 L116.5 297.48 L115.5 297.48 L114.5 297.48 L113.5 297.48 L112.5 297.48 L111.5 297.48 L110.5 297.48 L109.5 297.48 L108.5 297.47 L107.5 297.47 L106.5 297.47 L105.5 297.47 L104.5 297.47 L103.5 297.47 L102.5 297.47 L101.5 297.47 L100.5 297.46 L99.5 297.46 L98.5 297.46 L97.5 297.46 L96.5 297.46 L95.5 297.46 L94.5 297.45 L93.5 297.45 L92.5 297.45 L91.5 297.45 L90.5 297.45 L89.5 297.45 L88.5 297.44 L87.5 297.44 L86.5 297.44 L85.5 297.44 L84.5 297.44 L83.5 297.43 L82.5 297.43 L81.5 297.43 L80.5 297.43 L79.5 297.42 L78.5 297.42 L77.5 297.42 L76.5 297.42 L75.5 297.41 L74.5 297.41 L73.5 297.41 L72.5 297.41 L71.5 297.4 L70.5 297.4 L69.5 297.4 L68.5 297.39 L67.5 297.37 L66.5 297.35 L65.5 297.31 L64.5 297.28 L63.5 297.23 L62.5 297.18 L61.5 297.12 L60.5 297.06 L59.5 296.99 L58.5 296.91 L57.5 296.83 L56.5 296.74 L55.5 296.65 L54.5 296.54 L53.5 296.35 L52.5 296.1 L51.5 295.79 L50.5 295.45 L49.5 295.1 L48.5 294.76 L47.5 294.44 L46.5 294.11 L45.5 293.77 L44.5 293.42 L43.5 293.06 L42.5 292.68 L41.5 292.3 Z" fill="#e5f5fc"/>
<path d="M41.5 292.3 L42.5 292.68 L43.5 293.06 L44.5 293.42 L45.5 293.77 L46.5 294.11 L47.5 294.44 L48.5 294.76 L49.5 295.1 L50.5 295.45 L51.5 295.79 L52.5 296.1 L53.5 296.35 L54.5 296.54 L55.5 296.65 L56.5 296.74 L57.5 296.83 L58.5 296.91 L59.5 296.99 L60.5 297.06 L61.5 297.12 L62.5 297.18 L63.5 297.23 L64.5 297.28 L65.5 297.31 L66.5 297.35 L67.5 297.37 L68.5 297.39 L69.5 297.4 L70.5 297.4 L71.5 297.4 L72.5 297.41 L73.5 297.41 L74.5 297.41 L75.5 297.41 L76.5 297.42 L77.5 297.42 L78.5 297.42 L79.5 297.42 L80.5 297.43 L81.5 297.43 L82.5 297.43 L83.5 297.43 L84.5 297.44 L85.5 297.44 L86.5 297.44 L87.5 297.44 L88.5 297.44 L89.5 297.45 L90.5 297.45 L91.5 297.45 L92.5 297.45 L93.5 297.45 L94.5 297.45 L95.5 297.46 L96.5 297.46 L97.5 297.46 L98.5 297.46 L99.5 297.46 L100.5 297.46 L101.5 297.47 L102.5 297.47 L103.5 297.47 L104.5 297.47 L105.5 297.47 L106.5 297.47 L107.5 297.47 L108.5 297.47 L109.5 297.48 L110.5 297.48 L111.5 297.48 L112.5 297.48 L113.5 297.48 L114.5 297.48 L115.5 297.48 L116.5 297.48 L117.5 297.48 L118.5 297.48 L119.5 297.49 L120.5 297.49 L121.5 297.49 L122.5 297.49 L123.5 297.49 L124.5 297.49 L125.5 297.49 L126.5 297.49 L127.5 297.49 L128.5 297.49 L129.5 297.49 L130.5 297.49 L131.5 297.49 L132.5 297.49 L133.5 297.49 L134.5 297.5 L135.5 297.5 L136.5 297.5 L137.5 297.5 L138.5 297.5 L139.5 297.5 L140.5 297.5 L141.5 297.5 L142.5 297.5 L143.5 297.5 L144.5 297.5 L145.5 297.5 L146.5 297.5 L147.5 297.5 L148.5 297.5 L149.5 297.5 L150.5 297.5 L151.5 297.5 L152.5 297.5 L153.5 297.5 L154.5 297.5 L155.5 297.5 L156.5 297.5 L157.5 297.5 L158.5 297.5 L159.5 297.5 L160.5 297.5 L161.5 297.48 L162.5 297.46 L163.5 297.42 L164.5 297.38 L165.5 297.33 L166.5 297.27 L167.5 297.17 L168.5 297.04 L169.5 296.88 L170.5 296.7 L171.5 296.49 L172.5 296.21 L173.5 295.87 L174.5 295.49 L175.5 295.11 L176.5 294.72 L177.5 294.25 L178.5 293.8 L179.5 293.43 L180.5 293.2 L181.5 293.01 L182.5 292.84 L183.5 292.7 L184.5 292.59 L185.5 292.52 L186.5 292.49 L187.5 292.46 L188.5 292.44 L189.5 292.41 L190.5 292.4 L191.5 292.38 L192.5 292.36 L193.5 292.35 L194.5 292.34 L195.5 292.33 L196.5 292.32 L197.5 292.31 L198.5 292.31 L199.5 292.3 L200.5 292.3 L201.5 292.29 L202.5 292.29 L203.5 292.28 L204.5 292.28 L205.5 292.28 L206.5 292.27 L207.5 292.27 L208.5 292.26 L209.5 292.26 L210.5 292.25 L211.5 292.25 L212.5 292.25 L213.5 292.24 L214.5 292.24 L215.5 292.23 L216.5 292.23 L217.5 292.23 L218.5 292.22 L219.5 292.22 L220.5 292.22 L221.5 292.21 L222.5 292.21 L223.5 292.21 L224.5 292.2 L225.5 292.2 L226.5 292.2 L227.5 292.19 L228.5 292.19 L229.5 292.19 L230.5 292.18 L231.5 292.18 L232.5 292.18 L233.5 292.18 L234.5 292.17 L235.5 292.17 L236.5 292.17 L237.5 292.17 L238.5 292.16 L239.5 292.16 L240.5 292.16 L241.5 292.16 L242.5 292.15 L243.5 292.15 L244.5 292.15 L245.5 292.15 L246.5 292.14 L247.5 292.14 L248.5 292.14 L249.5 292.14 L250.5 292.14 L251.5 292.13 L252.5 292.13 L253.5 292.13 L254.5 292.13 L255.5 292.13 L256.5 292.13 L257.5 292.12 L258.5 292.12 L259.5 292.12 L260.5 292.12 L261.5 292.12 L262.5 292.12 L263.5 292.12 L264.5 292.11 L265.5 292.11 L266.5 292.11 L267.5 292.11 L268.5 292.11 L269.5 292.11 L270.5 292.11 L271.5 292.11 L272.5 292.11 L273.5 292.11 L274.5 292.11 L275.5 292.1 L276.5 292.1 L277.5 292.1 L278.5 292.1 L279.5 292.1 L280.5 292.1 L281.5 292.1 L282.5 292.1 L283.5 292.1 L284.5 292.1 L285.5 292.1 L286.5 292.1 L287.5 292.1 L288.5 292.1 L289.5 292.1 L290.5 292.1 L291.5 292.12 L292.5 292.17 L293.5 292.23 L294.5 292.3 L295.5 292.39 L296.5 292.49 L297.5 292.6 L298.5 292.72 L299.5 292.84 L300.5 292.97 L301.5 293.13 L302.5 293.32 L303.5 293.55 L304.5 293.81 L305.5 294.09 L306.5 294.4 L307.5 294.72 L308.5 295.07 L309.5 295.43 L310.5 295.8 L310.5 295.8 L309.5 295.43 L308.5 295.07 L307.5 294.72 L306.5 294.4 L305.5 294.09 L304.5 293.81 L303.5 293.55 L302.5 293.32 L301.5 293.13 L300.5 292.97 L299.5 292.84 L298.5 292.72 L297.5 292.6 L296.5 292.49 L295.5 292.39 L294.5 292.3 L293.5 292.23 L292.5 292.17 L291.5 292.12 L290.5 292.1 L289.5 292.1 L288.5 292.1 L287.5 292.1 L286.5 292.1 L285.5 292.1 L284.5 292.1 L283.5 292.1 L282.5 292.1 L281.5 292.1 L280.5 292.1 L279.5 292.1 L278.5 292.1 L277.5 292.1 L276.5 292.1 L275.5 292.1 L274.5 292.11 L273.5 292.11 L272.5 292.11 L271.5 292.11 L270.5 292.11 L269.5 292.11 L268.5 292.11 L267.5 292.11 L266.5 292.11 L265.5 292.11 L264.5 292.11 L263.5 292.12 L262.5 292.12 L261.5 292.12 L260.5 292.12 L259.5 292.12 L258.5 292.12 L257.5 292.12 L256.5 292.13 L255.5 292.13 L254.5 292.13 L253.5 292.13 L252.5 292.13 L251.5 292.13 L250.5 292.14 L249.5 292.14 L248.5 292.14 L247.5 292.14 L246.5 292.14 L245.5 292.15 L244.5 292.15 L243.5 292.15 L242.5 292.15 L241.5 292.16 L240.5 292.16 L239.5 292.16 L238.5 292.16 L237.5 292.17 L236.5 292.17 L235.5 292.17 L234.5 292.17 L233.5 292.18 L232.5 292.18 L231.5 292.18 L230.5 292.18 L229.5 292.19 L228.5 292.19 L227.5 292.19 L226.5 292.2 L225.5 292.2 L224.5 292.2 L223.5 292.21 L222.5 292.21 L221.5 292.21 L220.5 292.22 L219.5 292.22 L218.5 292.22 L217.5 292.23 L216.5 292.46 L215.5 293.1 L214.5 293.75 L213.5 294.38 L212.5 295.01 L211.5 295.64 L210.5 296.27 L209.5 296.89 L208.5 297.51 L207.5 298.13 L206.5 298.74 L205.5 299.36 L204.5 299.98 L203.5 300.6 L202.5 301.23 L201.5 301.85 L200.5 302.48 L199.5 303.12 L198.5 303.75 L197.5 304.38 L196.5 305.02 L195.5 305.65 L194.5 306.29 L193.5 306.93 L192.5 307.57 L191.5 308.22 L190.5 308.87 L189.5 309.53 L188.5 310.2 L187.5 310.89 L186.5 311.58 L185.5 312.27 L184.5 312.97 L183.5 313.66 L182.5 314.34 L181.5 315.02 L180.5 315.68 L179.5 316.33 L178.5 316.99 L177.5 317.64 L176.5 318.23 L175.5 318.75 L174.5 319.23 L173.5 319.39 L172.5 319.44 L171.5 319.42 L170.5 319.19 L169.5 318.86 L168.5 318.53 L167.5 318.14 L166.5 317.7 L165.5 317.23 L164.5 316.77 L163.5 316.29 L162.5 315.8 L161.5 315.29 L160.5 314.77 L159.5 314.23 L158.5 313.67 L157.5 313.1 L156.5 312.51 L155.5 311.91 L154.5 311.3 L153.5 310.68 L152.5 310.06 L151.5 309.44 L150.5 308.81 L149.5 308.19 L148.5 307.55 L147.5 306.91 L146.5 306.27 L145.5 305.61 L144.5 304.95 L143.5 304.29 L142.5 303.63 L141.5 302.96 L140.5 302.3 L139.5 301.63 L138.5 300.97 L137.5 300.3 L136.5 299.65 L135.5 299 L134.5 298.35 L133.5 297.72 L132.5 297.49 L131.5 297.49 L130.5 297.49 L129.5 297.49 L128.5 297.49 L127.5 297.49 L126.5 297.49 L125.5 297.49 L124.5 297.49 L123.5 297.49 L122.5 297.49 L121.5 297.49 L120.5 297.49 L119.5 297.49 L118.5 297.48 L117.5 297.48 L116.5 297.48 L115.5 297.48 L114.5 297.48 L113.5 297.48 L112.5 297.48 L111.5 297.48 L110.5 297.48 L109.5 297.48 L108.5 297.47 L107.5 297.47 L106.5 297.47 L105.5 297.47 L104.5 297.47 L103.5 297.47 L102.5 297.47 L101.5 297.47 L100.5 297.46 L99.5 297.46 L98.5 297.46 L97.5 297.46 L96.5 297.46 L95.5 297.46 L94.5 297.45 L93.5 297.45 L92.5 297.45 L91.5 297.45 L90.5 297.45 L89.5 297.45 L88.5 297.44 L87.5 297.44 L86.5 297.44 L85.5 297.44 L84.5 297.44 L83.5 297.43 L82.5 297.43 L81.5 297.43 L80.5 297.43 L79.5 297.42 L78.5 297.42 L77.5 297.42 L76.5 297.42 L75.5 297.41 L74.5 297.41 L73.5 297.41 L72.5 297.41 L71.5 297.4 L70.5 297.4 L69.5 297.4 L68.5 297.39 L67.5 297.37 L66.5 297.35 L65.5 297.31 L64.5 297.28 L63.5 297.23 L62.5 297.18 L61.5 297.12 L60.5 297.06 L59.5 296.99 L58.5 296.91 L57.5 296.83 L56.5 296.74 L55.5 296.65 L54.5 296.54 L53.5 296.35 L52.5 296.1 L51.5 295.79 L50.5 295.45 L49.5 295.1 L48.5 294.76 L47.5 294.44 L46.5 294.11 L45.5 293.77 L44.5 293.42 L43.5 293.06 L42.5 292.68 L41.5 292.3 Z" fill="#fdefe8"/>
<path d="M41.5 238.2 L42.5 238.66 L43.5 239.11 L44.5 239.56 L45.5 239.98 L46.5 240.38 L47.5 240.74 L48.5 241.06 L49.5 241.33 L50.5 241.58 L51.5 241.83 L52.5 242.06 L53.5 242.28 L54.5 242.49 L55.5 242.7 L56.5 242.89 L57.5 243.08 L58.5 243.26 L59.5 243.43 L60.5 243.6 L61.5 243.76 L62.5 243.92 L63.5 244.07 L64.5 244.22 L65.5 244.37 L66.5 244.51 L67.5 244.65 L68.5 244.79 L69.5 244.93 L70.5 245.07 L71.5 245.2 L72.5 245.33 L73.5 245.46 L74.5 245.59 L75.5 245.71 L76.5 245.83 L77.5 245.94 L78.5 246.05 L79.5 246.17 L80.5 246.27 L81.5 246.38 L82.5 246.49 L83.5 246.59 L84.5 246.69 L85.5 246.8 L86.5 246.9 L87.5 247 L88.5 247.1 L89.5 247.2 L90.5 247.3 L91.5 247.4 L92.5 247.5 L93.5 247.6 L94.5 247.71 L95.5 247.81 L96.5 247.92 L97.5 248.02 L98.5 248.13 L99.5 248.24 L100.5 248.36 L101.5 248.48 L102.5 248.6 L103.5 248.72 L104.5 248.85 L105.5 248.99 L106.5 249.12 L107.5 249.26 L108.5 249.4 L109.5 249.54 L110.5 249.69 L111.5 249.83 L112.5 249.98 L113.5 250.12 L114.5 250.27 L115.5 250.41 L116.5 250.56 L117.5 250.7 L118.5 250.85 L119.5 250.99 L120.5 251.13 L121.5 251.27 L122.5 251.4 L123.5 251.53 L124.5 251.66 L125.5 251.79 L126.5 251.91 L127.5 252.03 L128.5 252.14 L129.5 252.25 L130.5 252.35 L131.5 252.45 L132.5 252.54 L133.5 252.62 L134.5 252.7 L135.5 252.77 L136.5 252.84 L137.5 252.89 L138.5 252.94 L139.5 252.98 L140.5 253.02 L141.5 253.04 L142.5 253.07 L143.5 253.09 L144.5 253.11 L145.5 253.12 L146.5 253.14 L147.5 253.15 L148.5 253.16 L149.5 253.17 L150.5 253.19 L151.5 253.2 L152.5 253.21 L153.5 253.23 L154.5 253.24 L155.5 253.26 L156.5 253.29 L157.5 253.31 L158.5 253.35 L159.5 253.38 L160.5 253.43 L161.5 253.56 L162.5 253.74 L163.5 253.92 L164.5 254.09 L165.5 254.19 L166.5 254.2 L167.5 254.18 L168.5 254.14 L169.5 254.1 L170.5 254.03 L171.5 253.95 L172.5 253.75 L173.5 253.45 L174.5 253.1 L175.5 252.72 L176.5 252.27 L177.5 251.65 L178.5 251 L179.5 250.47 L180.5 250.18 L181.5 249.94 L182.5 249.71 L183.5 249.5 L184.5 249.3 L185.5 249.11 L186.5 248.94 L187.5 248.77 L188.5 248.62 L189.5 248.47 L190.5 248.33 L191.5 248.2 L192.5 248.08 L193.5 247.96 L194.5 247.85 L195.5 247.74 L196.5 247.64 L197.5 247.54 L198.5 247.44 L199.5 247.35 L200.5 247.25 L201.5 247.16 L202.5 247.07 L203.5 246.97 L204.5 246.88 L205.5 246.78 L206.5 246.68 L207.5 246.58 L208.5 246.47 L209.5 246.36 L210.5 246.24 L211.5 246.12 L212.5 246 L213.5 245.88 L214.5 245.75 L215.5 245.63 L216.5 245.5 L217.5 245.38 L218.5 245.25 L219.5 245.12 L220.5 244.99 L221.5 244.86 L222.5 244.72 L223.5 244.59 L224.5 244.46 L225.5 244.32 L226.5 244.19 L227.5 244.06 L228.5 243.92 L229.5 243.78 L230.5 243.65 L231.5 243.51 L232.5 243.37 L233.5 243.24 L234.5 243.1 L235.5 242.96 L236.5 242.83 L237.5 242.69 L238.5 242.55 L239.5 242.41 L240.5 242.28 L241.5 242.14 L242.5 242.01 L243.5 241.87 L244.5 241.74 L245.5 241.6 L246.5 241.47 L247.5 241.33 L248.5 241.2 L249.5 241.07 L250.5 240.94 L251.5 240.81 L252.5 240.68 L253.5 240.55 L254.5 240.42 L255.5 240.29 L256.5 240.17 L257.5 240.04 L258.5 239.92 L259.5 239.8 L260.5 239.68 L261.5 239.56 L262.5 239.44 L263.5 239.33 L264.5 239.21 L265.5 239.1 L266.5 238.99 L267.5 238.88 L268.5 238.77 L269.5 238.67 L270.5 238.56 L271.5 238.46 L272.5 238.36 L273.5 238.27 L274.5 238.17 L275.5 238.08 L276.5 237.99 L277.5 237.9 L278.5 237.81 L279.5 237.73 L280.5 237.65 L281.5 237.57 L282.5 237.49 L283.5 237.42 L284.5 237.35 L285.5 237.28 L286.5 237.22 L287.5 237.15 L288.5 237.1 L289.5 237.04 L290.5 236.99 L291.5 236.94 L292.5 236.89 L293.5 236.85 L294.5 236.81 L295.5 236.77 L296.5 236.74 L297.5 236.71 L298.5 236.68 L299.5 236.66 L300.5 236.64 L301.5 236.62 L302.5 236.61 L303.5 236.6 L304.5 236.6 L305.5 236.61 L306.5 236.65 L307.5 236.72 L308.5 236.87 L309.5 237.48 L310.5 238.4 L310.5 238.4 L309.5 237.48 L308.5 236.87 L307.5 236.88 L306.5 237.19 L305.5 237.56 L304.5 237.93 L303.5 238.32 L302.5 238.73 L301.5 239.18 L300.5 239.64 L299.5 240.13 L298.5 240.64 L297.5 241.17 L296.5 241.72 L295.5 242.28 L294.5 242.86 L293.5 243.45 L292.5 244.05 L291.5 244.66 L290.5 245.28 L289.5 245.91 L288.5 246.53 L287.5 247.16 L286.5 247.79 L285.5 248.42 L284.5 249.05 L283.5 249.68 L282.5 250.29 L281.5 250.9 L280.5 251.5 L279.5 252.1 L278.5 252.69 L277.5 253.28 L276.5 253.88 L275.5 254.48 L274.5 255.08 L273.5 255.68 L272.5 256.28 L271.5 256.89 L270.5 257.5 L269.5 258.11 L268.5 258.72 L267.5 259.34 L266.5 259.95 L265.5 260.57 L264.5 261.19 L263.5 261.81 L262.5 262.44 L261.5 263.06 L260.5 263.69 L259.5 264.32 L258.5 264.95 L257.5 265.58 L256.5 266.21 L255.5 266.84 L254.5 267.48 L253.5 268.12 L252.5 268.76 L251.5 269.4 L250.5 270.04 L249.5 270.68 L248.5 271.32 L247.5 271.97 L246.5 272.61 L245.5 273.26 L244.5 273.91 L243.5 274.55 L242.5 275.2 L241.5 275.86 L240.5 276.51 L239.5 277.16 L238.5 277.81 L237.5 278.47 L236.5 279.12 L235.5 279.78 L234.5 280.43 L233.5 281.09 L232.5 281.75 L231.5 282.41 L230.5 283.07 L229.5 283.73 L228.5 284.39 L227.5 285.05 L226.5 285.71 L225.5 286.37 L224.5 287.03 L223.5 287.71 L222.5 288.4 L221.5 289.08 L220.5 289.77 L219.5 290.46 L218.5 291.14 L217.5 291.8 L216.5 292.23 L215.5 292.23 L214.5 292.24 L213.5 292.24 L212.5 292.25 L211.5 292.25 L210.5 292.25 L209.5 292.26 L208.5 292.26 L207.5 292.27 L206.5 292.27 L205.5 292.28 L204.5 292.28 L203.5 292.28 L202.5 292.29 L201.5 292.29 L200.5 292.3 L199.5 292.3 L198.5 292.31 L197.5 292.31 L196.5 292.32 L195.5 292.33 L194.5 292.34 L193.5 292.35 L192.5 292.36 L191.5 292.38 L190.5 292.4 L189.5 292.41 L188.5 292.44 L187.5 292.46 L186.5 292.49 L185.5 292.52 L184.5 292.59 L183.5 292.7 L182.5 292.84 L181.5 293.01 L180.5 293.2 L179.5 293.43 L178.5 293.8 L177.5 294.25 L176.5 294.72 L175.5 295.11 L174.5 295.49 L173.5 295.87 L172.5 296.21 L171.5 296.49 L170.5 296.7 L169.5 296.88 L168.5 297.04 L167.5 297.17 L166.5 297.27 L165.5 297.33 L164.5 297.38 L163.5 297.42 L162.5 297.46 L161.5 297.48 L160.5 297.5 L159.5 297.5 L158.5 297.5 L157.5 297.5 L156.5 297.5 L155.5 297.5 L154.5 297.5 L153.5 297.5 L152.5 297.5 L151.5 297.5 L150.5 297.5 L149.5 297.5 L148.5 297.5 L147.5 297.5 L146.5 297.5 L145.5 297.5 L144.5 297.5 L143.5 297.5 L142.5 297.5 L141.5 297.5 L140.5 297.5 L139.5 297.5 L138.5 297.5 L137.5 297.5 L136.5 297.5 L135.5 297.5 L134.5 297.5 L133.5 297.49 L132.5 297.09 L131.5 296.46 L130.5 295.85 L129.5 295.23 L128.5 294.62 L127.5 294.02 L126.5 293.41 L125.5 292.81 L124.5 292.21 L123.5 291.61 L122.5 291.01 L121.5 290.41 L120.5 289.8 L119.5 289.2 L118.5 288.59 L117.5 287.99 L116.5 287.39 L115.5 286.79 L114.5 286.19 L113.5 285.59 L112.5 284.99 L111.5 284.39 L110.5 283.79 L109.5 283.19 L108.5 282.59 L107.5 281.99 L106.5 281.38 L105.5 280.78 L104.5 280.17 L103.5 279.56 L102.5 278.95 L101.5 278.33 L100.5 277.71 L99.5 277.09 L98.5 276.46 L97.5 275.84 L96.5 275.21 L95.5 274.58 L94.5 273.95 L93.5 273.31 L92.5 272.68 L91.5 272.04 L90.5 271.4 L89.5 270.76 L88.5 270.12 L87.5 269.48 L86.5 268.83 L85.5 268.19 L84.5 267.54 L83.5 266.89 L82.5 266.24 L81.5 265.58 L80.5 264.93 L79.5 264.27 L78.5 263.62 L77.5 262.96 L76.5 262.29 L75.5 261.63 L74.5 260.97 L73.5 260.3 L72.5 259.63 L71.5 258.95 L70.5 258.28 L69.5 257.6 L68.5 256.92 L67.5 256.23 L66.5 255.55 L65.5 254.86 L64.5 254.17 L63.5 253.48 L62.5 252.79 L61.5 252.1 L60.5 251.41 L59.5 250.72 L58.5 250.03 L57.5 249.34 L56.5 248.65 L55.5 247.95 L54.5 247.26 L53.5 246.57 L52.5 245.88 L51.5 245.18 L50.5 244.49 L49.5 243.79 L48.5 243.1 L47.5 242.4 L46.5 241.7 L45.5 241 L44.5 240.3 L43.5 239.6 L42.5 238.9 L41.5 238.2 Z" fill="#e6e9eb"/>
<path d="M39 211.5 L310.5 211.5" stroke="#c4c4c4" stroke-width="1.3" fill="none"/>
<path d="M310.5 211.5 L310.5 371.5" stroke="#8a8a8a" stroke-width="1.1" fill="none"/>
<path d="M41.5 211.5 L41.5 371.5 L310.5 371.5" stroke="#6a6a6a" stroke-width="1" fill="none"/>
<path d="M41.5 371.5 L41.5 374" stroke="#6a6a6a" stroke-width="0.9"/>
<text x="41.5" y="382.9" font-size="7.6" text-anchor="middle" fill="#333" stroke="#333" stroke-width="0.15">0</text>
<path d="M108.75 371.5 L108.75 374" stroke="#6a6a6a" stroke-width="0.9"/>
<text x="108.75" y="382.9" font-size="7.6" text-anchor="middle" fill="#333" stroke="#333" stroke-width="0.15">50</text>
<path d="M176 371.5 L176 374" stroke="#6a6a6a" stroke-width="0.9"/>
<text x="176" y="382.9" font-size="7.6" text-anchor="middle" fill="#333" stroke="#333" stroke-width="0.15">100</text>
<path d="M243.25 371.5 L243.25 374" stroke="#6a6a6a" stroke-width="0.9"/>
<text x="243.25" y="382.9" font-size="7.6" text-anchor="middle" fill="#333" stroke="#333" stroke-width="0.15">150</text>
<path d="M310.5 371.5 L310.5 374" stroke="#6a6a6a" stroke-width="0.9"/>
<text x="310.5" y="382.9" font-size="7.6" text-anchor="middle" fill="#333" stroke="#333" stroke-width="0.15">200</text>
<path d="M39 211.5 L41.5 211.5" stroke="#6a6a6a" stroke-width="0.9"/>
<text x="35.3" y="214.2" font-size="7.6" text-anchor="end" fill="#333" stroke="#333" stroke-width="0.15">2</text>
<path d="M39 243.5 L41.5 243.5" stroke="#6a6a6a" stroke-width="0.9"/>
<text x="35.3" y="246.2" font-size="7.6" text-anchor="end" fill="#333" stroke="#333" stroke-width="0.15">0</text>
<path d="M39 275.5 L41.5 275.5" stroke="#6a6a6a" stroke-width="0.9"/>
<text x="35.3" y="278.2" font-size="7.6" text-anchor="end" fill="#333" stroke="#333" stroke-width="0.15">−2</text>
<path d="M39 307.5 L41.5 307.5" stroke="#6a6a6a" stroke-width="0.9"/>
<text x="35.3" y="310.2" font-size="7.6" text-anchor="end" fill="#333" stroke="#333" stroke-width="0.15">−4</text>
<path d="M39 339.5 L41.5 339.5" stroke="#6a6a6a" stroke-width="0.9"/>
<text x="35.3" y="342.2" font-size="7.6" text-anchor="end" fill="#333" stroke="#333" stroke-width="0.15">−6</text>
<path d="M39 371.5 L41.5 371.5" stroke="#6a6a6a" stroke-width="0.9"/>
<text x="35.3" y="374.2" font-size="7.6" text-anchor="end" fill="#333" stroke="#333" stroke-width="0.15">−8</text>
<path d="M176 211.5 L176 371.5" stroke="#a4a4a4" stroke-width="1.1" stroke-dasharray="3 2.2"/>
<rect x="213.4" y="298.4" width="32.6" height="58" fill="#b8e3f6"/>
<rect x="262.4" y="298.4" width="34.2" height="58" fill="#b8e3f6"/>
<path d="M213.4 298.4 L213.4 356.4 M296.6 298.4 L296.6 356.4" stroke="#9a9a9a" stroke-width="0.6" stroke-dasharray="1.6 1.2"/>
<path d="M213.4 327.4 L244 327.4 M264.4 327.4 L296.6 327.4" stroke="#c1272d" stroke-width="1.2"/>
<path d="M247 297.9 Q254.2 297.4 261.4 297.9 Q265.4 298.4 265.1 303.4 Q266.6 313.4 264.8 326.4 Q264.2 340.4 265.7 351.4 Q265.4 356.4 261.4 356.4 Q254.2 356.9 247 356.4 Q243 356.4 243.2 351.4 Q244.4 336.4 242.6 323.4 Q242 310.4 243.2 303.4 Q243 298.4 247 297.9 Z" fill="#efefef" stroke="#7a7a7a" stroke-width="0.6"/>
<text x="214.5" y="324.2" font-size="7.6" text-anchor="start" fill="#2b2b2b"  stroke="#2b2b2b" stroke-width="0.12">100 mM</text>
<text x="266.3" y="324.2" font-size="7.6" text-anchor="start" fill="#2b2b2b"  stroke="#2b2b2b" stroke-width="0.12">100 mM</text>
<text x="254.2" y="365.8" font-size="8.6" text-anchor="middle" fill="#222"  stroke="#222" stroke-width="0.12">CSE</text>
<path d="M41.5 238.2 L42.5 238.9 L43.5 239.6 L44.5 240.3 L45.5 241 L46.5 241.7 L47.5 242.4 L48.5 243.1 L49.5 243.79 L50.5 244.49 L51.5 245.18 L52.5 245.88 L53.5 246.57 L54.5 247.26 L55.5 247.95 L56.5 248.65 L57.5 249.34 L58.5 250.03 L59.5 250.72 L60.5 251.41 L61.5 252.1 L62.5 252.79 L63.5 253.48 L64.5 254.17 L65.5 254.86 L66.5 255.55 L67.5 256.23 L68.5 256.92 L69.5 257.6 L70.5 258.28 L71.5 258.95 L72.5 259.63 L73.5 260.3 L74.5 260.97 L75.5 261.63 L76.5 262.29 L77.5 262.96 L78.5 263.62 L79.5 264.27 L80.5 264.93 L81.5 265.58 L82.5 266.24 L83.5 266.89 L84.5 267.54 L85.5 268.19 L86.5 268.83 L87.5 269.48 L88.5 270.12 L89.5 270.76 L90.5 271.4 L91.5 272.04 L92.5 272.68 L93.5 273.31 L94.5 273.95 L95.5 274.58 L96.5 275.21 L97.5 275.84 L98.5 276.46 L99.5 277.09 L100.5 277.71 L101.5 278.33 L102.5 278.95 L103.5 279.56 L104.5 280.17 L105.5 280.78 L106.5 281.38 L107.5 281.99 L108.5 282.59 L109.5 283.19 L110.5 283.79 L111.5 284.39 L112.5 284.99 L113.5 285.59 L114.5 286.19 L115.5 286.79 L116.5 287.39 L117.5 287.99 L118.5 288.59 L119.5 289.2 L120.5 289.8 L121.5 290.41 L122.5 291.01 L123.5 291.61 L124.5 292.21 L125.5 292.81 L126.5 293.41 L127.5 294.02 L128.5 294.62 L129.5 295.23 L130.5 295.85 L131.5 296.46 L132.5 297.09 L133.5 297.72 L134.5 298.35 L135.5 299 L136.5 299.65 L137.5 300.3 L138.5 300.97 L139.5 301.63 L140.5 302.3 L141.5 302.96 L142.5 303.63 L143.5 304.29 L144.5 304.95 L145.5 305.61 L146.5 306.27 L147.5 306.91 L148.5 307.55 L149.5 308.19 L150.5 308.81 L151.5 309.44 L152.5 310.06 L153.5 310.68 L154.5 311.3 L155.5 311.91 L156.5 312.51 L157.5 313.1 L158.5 313.67 L159.5 314.23 L160.5 314.77 L161.5 315.29 L162.5 315.8 L163.5 316.29 L164.5 316.77 L165.5 317.23 L166.5 317.7 L167.5 318.14 L168.5 318.53 L169.5 318.86 L170.5 319.19 L171.5 319.42 L172.5 319.44 L173.5 319.39 L174.5 319.23 L175.5 318.75 L176.5 318.23 L177.5 317.64 L178.5 316.99 L179.5 316.33 L180.5 315.68 L181.5 315.02 L182.5 314.34 L183.5 313.66 L184.5 312.97 L185.5 312.27 L186.5 311.58 L187.5 310.89 L188.5 310.2 L189.5 309.53 L190.5 308.87 L191.5 308.22 L192.5 307.57 L193.5 306.93 L194.5 306.29 L195.5 305.65 L196.5 305.02 L197.5 304.38 L198.5 303.75 L199.5 303.12 L200.5 302.48 L201.5 301.85 L202.5 301.23 L203.5 300.6 L204.5 299.98 L205.5 299.36 L206.5 298.74 L207.5 298.13 L208.5 297.51 L209.5 296.89 L210.5 296.27 L211.5 295.64 L212.5 295.01 L213.5 294.38 L214.5 293.75 L215.5 293.1 L216.5 292.46 L217.5 291.8 L218.5 291.14 L219.5 290.46 L220.5 289.77 L221.5 289.08 L222.5 288.4 L223.5 287.71 L224.5 287.03 L225.5 286.37 L226.5 285.71 L227.5 285.05 L228.5 284.39 L229.5 283.73 L230.5 283.07 L231.5 282.41 L232.5 281.75 L233.5 281.09 L234.5 280.43 L235.5 279.78 L236.5 279.12 L237.5 278.47 L238.5 277.81 L239.5 277.16 L240.5 276.51 L241.5 275.86 L242.5 275.2 L243.5 274.55 L244.5 273.91 L245.5 273.26 L246.5 272.61 L247.5 271.97 L248.5 271.32 L249.5 270.68 L250.5 270.04 L251.5 269.4 L252.5 268.76 L253.5 268.12 L254.5 267.48 L255.5 266.84 L256.5 266.21 L257.5 265.58 L258.5 264.95 L259.5 264.32 L260.5 263.69 L261.5 263.06 L262.5 262.44 L263.5 261.81 L264.5 261.19 L265.5 260.57 L266.5 259.95 L267.5 259.34 L268.5 258.72 L269.5 258.11 L270.5 257.5 L271.5 256.89 L272.5 256.28 L273.5 255.68 L274.5 255.08 L275.5 254.48 L276.5 253.88 L277.5 253.28 L278.5 252.69 L279.5 252.1 L280.5 251.5 L281.5 250.9 L282.5 250.29 L283.5 249.68 L284.5 249.05 L285.5 248.42 L286.5 247.79 L287.5 247.16 L288.5 246.53 L289.5 245.91 L290.5 245.28 L291.5 244.66 L292.5 244.05 L293.5 243.45 L294.5 242.86 L295.5 242.28 L296.5 241.72 L297.5 241.17 L298.5 240.64 L299.5 240.13 L300.5 239.64 L301.5 239.18 L302.5 238.73 L303.5 238.32 L304.5 237.93 L305.5 237.56 L306.5 237.19 L307.5 236.88 L308.5 236.84 L309.5 237.39 L310.5 238.4" fill="none" stroke="#111" stroke-width="1.7" stroke-linejoin="round"/>
<path d="M41.5 238.2 L42.5 238.66 L43.5 239.11 L44.5 239.56 L45.5 239.98 L46.5 240.38 L47.5 240.74 L48.5 241.06 L49.5 241.33 L50.5 241.58 L51.5 241.83 L52.5 242.06 L53.5 242.28 L54.5 242.49 L55.5 242.7 L56.5 242.89 L57.5 243.08 L58.5 243.26 L59.5 243.43 L60.5 243.6 L61.5 243.76 L62.5 243.92 L63.5 244.07 L64.5 244.22 L65.5 244.37 L66.5 244.51 L67.5 244.65 L68.5 244.79 L69.5 244.93 L70.5 245.07 L71.5 245.2 L72.5 245.33 L73.5 245.46 L74.5 245.59 L75.5 245.71 L76.5 245.83 L77.5 245.94 L78.5 246.05 L79.5 246.17 L80.5 246.27 L81.5 246.38 L82.5 246.49 L83.5 246.59 L84.5 246.69 L85.5 246.8 L86.5 246.9 L87.5 247 L88.5 247.1 L89.5 247.2 L90.5 247.3 L91.5 247.4 L92.5 247.5 L93.5 247.6 L94.5 247.71 L95.5 247.81 L96.5 247.92 L97.5 248.02 L98.5 248.13 L99.5 248.24 L100.5 248.36 L101.5 248.48 L102.5 248.6 L103.5 248.72 L104.5 248.85 L105.5 248.99 L106.5 249.12 L107.5 249.26 L108.5 249.4 L109.5 249.54 L110.5 249.69 L111.5 249.83 L112.5 249.98 L113.5 250.12 L114.5 250.27 L115.5 250.41 L116.5 250.56 L117.5 250.7 L118.5 250.85 L119.5 250.99 L120.5 251.13 L121.5 251.27 L122.5 251.4 L123.5 251.53 L124.5 251.66 L125.5 251.79 L126.5 251.91 L127.5 252.03 L128.5 252.14 L129.5 252.25 L130.5 252.35 L131.5 252.45 L132.5 252.54 L133.5 252.62 L134.5 252.7 L135.5 252.77 L136.5 252.84 L137.5 252.89 L138.5 252.94 L139.5 252.98 L140.5 253.02 L141.5 253.04 L142.5 253.07 L143.5 253.09 L144.5 253.11 L145.5 253.12 L146.5 253.14 L147.5 253.15 L148.5 253.16 L149.5 253.17 L150.5 253.19 L151.5 253.2 L152.5 253.21 L153.5 253.23 L154.5 253.24 L155.5 253.26 L156.5 253.29 L157.5 253.31 L158.5 253.35 L159.5 253.38 L160.5 253.43 L161.5 253.56 L162.5 253.74 L163.5 253.92 L164.5 254.09 L165.5 254.19 L166.5 254.2 L167.5 254.18 L168.5 254.14 L169.5 254.1 L170.5 254.03 L171.5 253.95 L172.5 253.75 L173.5 253.45 L174.5 253.1 L175.5 252.72 L176.5 252.27 L177.5 251.65 L178.5 251 L179.5 250.47 L180.5 250.18 L181.5 249.94 L182.5 249.71 L183.5 249.5 L184.5 249.3 L185.5 249.11 L186.5 248.94 L187.5 248.77 L188.5 248.62 L189.5 248.47 L190.5 248.33 L191.5 248.2 L192.5 248.08 L193.5 247.96 L194.5 247.85 L195.5 247.74 L196.5 247.64 L197.5 247.54 L198.5 247.44 L199.5 247.35 L200.5 247.25 L201.5 247.16 L202.5 247.07 L203.5 246.97 L204.5 246.88 L205.5 246.78 L206.5 246.68 L207.5 246.58 L208.5 246.47 L209.5 246.36 L210.5 246.24 L211.5 246.12 L212.5 246 L213.5 245.88 L214.5 245.75 L215.5 245.63 L216.5 245.5 L217.5 245.38 L218.5 245.25 L219.5 245.12 L220.5 244.99 L221.5 244.86 L222.5 244.72 L223.5 244.59 L224.5 244.46 L225.5 244.32 L226.5 244.19 L227.5 244.06 L228.5 243.92 L229.5 243.78 L230.5 243.65 L231.5 243.51 L232.5 243.37 L233.5 243.24 L234.5 243.1 L235.5 242.96 L236.5 242.83 L237.5 242.69 L238.5 242.55 L239.5 242.41 L240.5 242.28 L241.5 242.14 L242.5 242.01 L243.5 241.87 L244.5 241.74 L245.5 241.6 L246.5 241.47 L247.5 241.33 L248.5 241.2 L249.5 241.07 L250.5 240.94 L251.5 240.81 L252.5 240.68 L253.5 240.55 L254.5 240.42 L255.5 240.29 L256.5 240.17 L257.5 240.04 L258.5 239.92 L259.5 239.8 L260.5 239.68 L261.5 239.56 L262.5 239.44 L263.5 239.33 L264.5 239.21 L265.5 239.1 L266.5 238.99 L267.5 238.88 L268.5 238.77 L269.5 238.67 L270.5 238.56 L271.5 238.46 L272.5 238.36 L273.5 238.27 L274.5 238.17 L275.5 238.08 L276.5 237.99 L277.5 237.9 L278.5 237.81 L279.5 237.73 L280.5 237.65 L281.5 237.57 L282.5 237.49 L283.5 237.42 L284.5 237.35 L285.5 237.28 L286.5 237.22 L287.5 237.15 L288.5 237.1 L289.5 237.04 L290.5 236.99 L291.5 236.94 L292.5 236.89 L293.5 236.85 L294.5 236.81 L295.5 236.77 L296.5 236.74 L297.5 236.71 L298.5 236.68 L299.5 236.66 L300.5 236.64 L301.5 236.62 L302.5 236.61 L303.5 236.6 L304.5 236.6 L305.5 236.61 L306.5 236.65 L307.5 236.72 L308.5 236.87 L309.5 237.48 L310.5 238.4" fill="none" stroke="#e8793b" stroke-width="1.6" stroke-dasharray="3.8 5.3" stroke-linecap="round" stroke-linejoin="round"/>
<path d="M41.5 292.3 L42.5 292.68 L43.5 293.06 L44.5 293.42 L45.5 293.77 L46.5 294.11 L47.5 294.44 L48.5 294.76 L49.5 295.1 L50.5 295.45 L51.5 295.79 L52.5 296.1 L53.5 296.35 L54.5 296.54 L55.5 296.65 L56.5 296.74 L57.5 296.83 L58.5 296.91 L59.5 296.99 L60.5 297.06 L61.5 297.12 L62.5 297.18 L63.5 297.23 L64.5 297.28 L65.5 297.31 L66.5 297.35 L67.5 297.37 L68.5 297.39 L69.5 297.4 L70.5 297.4 L71.5 297.4 L72.5 297.41 L73.5 297.41 L74.5 297.41 L75.5 297.41 L76.5 297.42 L77.5 297.42 L78.5 297.42 L79.5 297.42 L80.5 297.43 L81.5 297.43 L82.5 297.43 L83.5 297.43 L84.5 297.44 L85.5 297.44 L86.5 297.44 L87.5 297.44 L88.5 297.44 L89.5 297.45 L90.5 297.45 L91.5 297.45 L92.5 297.45 L93.5 297.45 L94.5 297.45 L95.5 297.46 L96.5 297.46 L97.5 297.46 L98.5 297.46 L99.5 297.46 L100.5 297.46 L101.5 297.47 L102.5 297.47 L103.5 297.47 L104.5 297.47 L105.5 297.47 L106.5 297.47 L107.5 297.47 L108.5 297.47 L109.5 297.48 L110.5 297.48 L111.5 297.48 L112.5 297.48 L113.5 297.48 L114.5 297.48 L115.5 297.48 L116.5 297.48 L117.5 297.48 L118.5 297.48 L119.5 297.49 L120.5 297.49 L121.5 297.49 L122.5 297.49 L123.5 297.49 L124.5 297.49 L125.5 297.49 L126.5 297.49 L127.5 297.49 L128.5 297.49 L129.5 297.49 L130.5 297.49 L131.5 297.49 L132.5 297.49 L133.5 297.49 L134.5 297.5 L135.5 297.5 L136.5 297.5 L137.5 297.5 L138.5 297.5 L139.5 297.5 L140.5 297.5 L141.5 297.5 L142.5 297.5 L143.5 297.5 L144.5 297.5 L145.5 297.5 L146.5 297.5 L147.5 297.5 L148.5 297.5 L149.5 297.5 L150.5 297.5 L151.5 297.5 L152.5 297.5 L153.5 297.5 L154.5 297.5 L155.5 297.5 L156.5 297.5 L157.5 297.5 L158.5 297.5 L159.5 297.5 L160.5 297.5 L161.5 297.48 L162.5 297.46 L163.5 297.42 L164.5 297.38 L165.5 297.33 L166.5 297.27 L167.5 297.17 L168.5 297.04 L169.5 296.88 L170.5 296.7 L171.5 296.49 L172.5 296.21 L173.5 295.87 L174.5 295.49 L175.5 295.11 L176.5 294.72 L177.5 294.25 L178.5 293.8 L179.5 293.43 L180.5 293.2 L181.5 293.01 L182.5 292.84 L183.5 292.7 L184.5 292.59 L185.5 292.52 L186.5 292.49 L187.5 292.46 L188.5 292.44 L189.5 292.41 L190.5 292.4 L191.5 292.38 L192.5 292.36 L193.5 292.35 L194.5 292.34 L195.5 292.33 L196.5 292.32 L197.5 292.31 L198.5 292.31 L199.5 292.3 L200.5 292.3 L201.5 292.29 L202.5 292.29 L203.5 292.28 L204.5 292.28 L205.5 292.28 L206.5 292.27 L207.5 292.27 L208.5 292.26 L209.5 292.26 L210.5 292.25 L211.5 292.25 L212.5 292.25 L213.5 292.24 L214.5 292.24 L215.5 292.23 L216.5 292.23 L217.5 292.23 L218.5 292.22 L219.5 292.22 L220.5 292.22 L221.5 292.21 L222.5 292.21 L223.5 292.21 L224.5 292.2 L225.5 292.2 L226.5 292.2 L227.5 292.19 L228.5 292.19 L229.5 292.19 L230.5 292.18 L231.5 292.18 L232.5 292.18 L233.5 292.18 L234.5 292.17 L235.5 292.17 L236.5 292.17 L237.5 292.17 L238.5 292.16 L239.5 292.16 L240.5 292.16 L241.5 292.16 L242.5 292.15 L243.5 292.15 L244.5 292.15 L245.5 292.15 L246.5 292.14 L247.5 292.14 L248.5 292.14 L249.5 292.14 L250.5 292.14 L251.5 292.13 L252.5 292.13 L253.5 292.13 L254.5 292.13 L255.5 292.13 L256.5 292.13 L257.5 292.12 L258.5 292.12 L259.5 292.12 L260.5 292.12 L261.5 292.12 L262.5 292.12 L263.5 292.12 L264.5 292.11 L265.5 292.11 L266.5 292.11 L267.5 292.11 L268.5 292.11 L269.5 292.11 L270.5 292.11 L271.5 292.11 L272.5 292.11 L273.5 292.11 L274.5 292.11 L275.5 292.1 L276.5 292.1 L277.5 292.1 L278.5 292.1 L279.5 292.1 L280.5 292.1 L281.5 292.1 L282.5 292.1 L283.5 292.1 L284.5 292.1 L285.5 292.1 L286.5 292.1 L287.5 292.1 L288.5 292.1 L289.5 292.1 L290.5 292.1 L291.5 292.12 L292.5 292.17 L293.5 292.23 L294.5 292.3 L295.5 292.39 L296.5 292.49 L297.5 292.6 L298.5 292.72 L299.5 292.84 L300.5 292.97 L301.5 293.13 L302.5 293.32 L303.5 293.55 L304.5 293.81 L305.5 294.09 L306.5 294.4 L307.5 294.72 L308.5 295.07 L309.5 295.43 L310.5 295.8" fill="none" stroke="#1cafea" stroke-width="1.6" stroke-dasharray="3.8 5.3" stroke-linecap="round" stroke-linejoin="round"/>
<text transform="translate(3.2 210.1) scale(1.1 1)" font-size="12.5" font-weight="bold" fill="#000">b</text>
<text x="107.3" y="222" font-size="9.1" text-anchor="middle" fill="#222"  stroke="#222" stroke-width="0.12">Charging step</text>
<text x="245.6" y="222" font-size="9.1" text-anchor="middle" fill="#222"  stroke="#222" stroke-width="0.12">Discharge step</text>
<text x="176" y="397.6" font-size="8.8" text-anchor="middle" fill="#222"  stroke="#222" stroke-width="0.12">Time (s)</text>
<text transform="translate(21.3 290) rotate(-90)" font-size="9.2" fill="#222" text-anchor="middle">Average electric potential (<tspan font-style="italic">V</tspan><tspan font-size="5.6" dy="1.5">T</tspan><tspan dy="-1.5">)</tspan></text>
<linearGradient id="gb1" x1="0" y1="254" x2="0" y2="296.8" gradientUnits="userSpaceOnUse"><stop offset="0" stop-color="#e96a50"/><stop offset="1" stop-color="#5a9fd8"/></linearGradient>
<path d="M152.5 258.3 L152.5 292.5" stroke="url(#gb1)" stroke-width="1.4"/>
<path d="M150.2 258.8 L152.5 254 L154.8 258.8 Z" fill="#e96a50"/>
<path d="M150.2 292 L152.5 296.8 L154.8 292 Z" fill="#5a9fd8"/>
<linearGradient id="gb2" x1="0" y1="246.5" x2="0" y2="286.25" gradientUnits="userSpaceOnUse"><stop offset="0" stop-color="#dc6236"/><stop offset="1" stop-color="#4a2412"/></linearGradient>
<path d="M225.25 250.8 L225.25 281.95" stroke="url(#gb2)" stroke-width="1.4"/>
<path d="M222.95 251.3 L225.25 246.5 L227.55 251.3 Z" fill="#dc6236"/>
<path d="M222.95 281.45 L225.25 286.25 L227.55 281.45 Z" fill="#4a2412"/>
<text transform="translate(64.5 238.05) scale(1.3 1)" font-size="7.23" font-style="italic" fill="#222" stroke="#222" stroke-width="0.2">ϕ</text>
<text x="69.83" y="240.5" font-size="5.6" fill="#333">pore</text>
<text x="107.79" y="271.6" font-size="7" fill="#222" stroke="#222" stroke-width="0.3">Δ</text>
<text transform="translate(112.26 271.95) scale(1.3 1)" font-size="7.23" font-style="italic" fill="#222" stroke="#222" stroke-width="0.2">ϕ</text>
<text x="117.58" y="274.75" font-size="5.4" fill="#333">D,CEP/pore</text>
<text x="228.79" y="264.8" font-size="7" fill="#222" stroke="#222" stroke-width="0.3">Δ</text>
<text transform="translate(233.26 265.15) scale(1.3 1)" font-size="7.23" font-style="italic" fill="#222" stroke="#222" stroke-width="0.2">ϕ</text>
<text x="238.58" y="267.5" font-size="5.2" fill="#333">S</text>
<text transform="translate(62.7 311.25) scale(1.3 1)" font-size="7.23" font-style="italic" fill="#222" stroke="#222" stroke-width="0.2">ϕ</text>
<text x="68.03" y="313.75" font-size="4.8" fill="#333">CEP</text>
<text transform="translate(113.9 310.35) scale(1.3 1)" font-size="7.23" font-style="italic" fill="#222" stroke="#222" stroke-width="0.2">ϕ</text>
<text x="119.23" y="312.4" font-size="5.6" fill="#333">carbon</text>
<path d="M390.37 268.6 L390.47 268.74 L390.57 268.86 L390.67 268.96 L390.77 269.04 L390.88 269.11 L390.98 269.17 L391.08 269.22 L391.18 269.26 L391.29 269.3 L391.39 269.34 L391.49 269.37 L391.59 269.4 L391.69 269.44 L391.8 269.49 L391.9 269.54 L392 269.6 L393 270.26 L394 270.92 L395 271.59 L396 272.27 L397 272.94 L398 273.62 L399 274.3 L400 274.97 L401 275.65 L402 276.32 L403 276.99 L404 277.65 L405 278.3 L406 278.95 L407 279.59 L408 280.22 L409 280.86 L410 281.48 L411 282.11 L412 282.73 L413 283.36 L414 283.98 L415 284.6 L416 285.23 L417 285.85 L418 286.48 L419 287.11 L420 287.75 L421 288.39 L422 289.03 L423 289.68 L424 290.33 L425 290.98 L426 291.63 L427 292.28 L428 292.94 L429 293.59 L430 294.25 L431 294.91 L432 295.57 L433 296.22 L434 296.88 L435 297.54 L436 298.19 L437 298.85 L438 299.5 L439 300.15 L440 300.81 L441 301.45 L442 302.1 L443 302.74 L444 303.38 L445 304.02 L446 304.66 L447 305.29 L448 305.91 L449 306.54 L450 307.16 L451 307.77 L452 308.39 L453 309 L454 309.61 L455 310.21 L456 310.82 L457 311.42 L458 312.02 L459 312.62 L460 313.22 L461 313.82 L462 314.42 L463 315.02 L464 315.61 L465 316.21 L466 316.81 L467 317.4 L468 318 L469 318.6 L470 319.2 L471 319.8 L472 320.4 L473 321.01 L474 321.61 L475 322.22 L476 322.83 L477 323.44 L478 323.56 L479 323.57 L480 323.57 L481 323.57 L482 323.57 L483 323.57 L484 323.58 L485 323.58 L486 323.58 L487 323.58 L488 323.58 L489 323.58 L490 323.59 L491 323.59 L492 323.59 L493 323.59 L494 323.59 L495 323.59 L496 323.59 L497 323.59 L498 323.59 L499 323.6 L500 323.6 L501 323.6 L502 323.6 L503 323.6 L504 323.6 L505 323.6 L506 323.6 L507 323.6 L508 323.6 L509 323.6 L510 323.6 L511 323.59 L512 323.55 L513 323.49 L514 323.41 L515 323.31 L516 323.19 L517 323.06 L518 322.92 L519 322.77 L520 322.53 L520.2 322.47 L520.4 322.41 L520.6 322.34 L520.8 322.28 L521 322.2 L521.2 322.13 L521.4 322.05 L521.6 321.97 L521.8 321.89 L522 321.81 L522.2 321.73 L522.4 321.64 L522.6 321.56 L522.8 321.46 L523 321.36 L523.2 321.25 L523.4 321.14 L523.6 321.02 L523.8 320.89 L524 320.76 L524.2 320.63 L524.4 320.5 L524.4 320.5 L524.2 320.63 L524 320.76 L523.8 320.89 L523.6 321.02 L523.4 321.14 L523.2 321.25 L523 321.36 L522.8 321.46 L522.6 321.56 L522.4 321.64 L522.2 321.73 L522 321.81 L521.8 321.89 L521.6 321.97 L521.4 322.05 L521.2 322.13 L521 322.2 L520.8 322.28 L520.6 322.34 L520.4 322.41 L520.2 322.47 L520 322.53 L519 322.77 L518 322.92 L517 323.06 L516 323.19 L515 323.31 L514 323.41 L513 323.49 L512 323.55 L511 323.59 L510 323.6 L509 323.6 L508 323.6 L507 323.6 L506 323.6 L505 323.6 L504 323.6 L503 323.6 L502 323.6 L501 323.6 L500 323.6 L499 323.6 L498 323.59 L497 323.59 L496 323.59 L495 323.59 L494 323.59 L493 323.59 L492 323.59 L491 323.59 L490 323.59 L489 323.58 L488 323.58 L487 323.58 L486 323.58 L485 323.58 L484 323.58 L483 323.57 L482 323.57 L481 323.57 L480 323.57 L479 323.57 L478 323.56 L477 323.56 L476 323.56 L475 323.56 L474 323.55 L473 323.55 L472 323.55 L471 323.55 L470 323.54 L469 323.54 L468 323.54 L467 323.53 L466 323.53 L465 323.53 L464 323.52 L463 323.52 L462 323.52 L461 323.51 L460 323.51 L459 323.51 L458 323.5 L457 323.5 L456 323.49 L455 323.49 L454 323.49 L453 323.48 L452 323.48 L451 323.47 L450 323.47 L449 323.46 L448 323.46 L447 323.46 L446 323.45 L445 323.45 L444 323.44 L443 323.44 L442 323.43 L441 323.43 L440 323.42 L439 323.42 L438 323.41 L437 323.4 L436 323.4 L435 323.39 L434 323.39 L433 323.38 L432 323.38 L431 323.37 L430 323.36 L429 323.36 L428 323.35 L427 323.35 L426 323.34 L425 323.33 L424 323.33 L423 323.32 L422 323.31 L421 323.31 L420 323.3 L419 323.29 L418 323.29 L417 323.28 L416 323.27 L415 323.26 L414 323.25 L413 323.23 L412 323.22 L411 323.2 L410 323.19 L409 323.17 L408 323.15 L407 323.12 L406 323.1 L405 323.07 L404 323.04 L403 323.01 L402 322.97 L401 322.93 L400 322.89 L399 322.85 L398 322.8 L397 322.71 L396 322.55 L395 322.31 L394 322 L393 321.44 L392 320.39 L391.9 320.25 L391.8 320.1 L391.69 319.95 L391.59 319.79 L391.49 319.62 L391.39 319.43 L391.29 319.22 L391.18 318.97 L391.08 318.68 L390.98 318.34 L390.88 317.94 L390.77 317.46 L390.67 316.92 L390.57 316.28 L390.47 315.55 L390.37 314.63 Z" fill="#e5f5fc"/>
<path d="M390.37 314.63 L390.47 315.55 L390.57 316.28 L390.67 316.92 L390.77 317.46 L390.88 317.94 L390.98 318.34 L391.08 318.68 L391.18 318.97 L391.29 319.22 L391.39 319.43 L391.49 319.62 L391.59 319.79 L391.69 319.95 L391.8 320.1 L391.9 320.25 L392 320.39 L393 321.44 L394 322 L395 322.31 L396 322.55 L397 322.71 L398 322.8 L399 322.85 L400 322.89 L401 322.93 L402 322.97 L403 323.01 L404 323.04 L405 323.07 L406 323.1 L407 323.12 L408 323.15 L409 323.17 L410 323.19 L411 323.2 L412 323.22 L413 323.23 L414 323.25 L415 323.26 L416 323.27 L417 323.28 L418 323.29 L419 323.29 L420 323.3 L421 323.31 L422 323.31 L423 323.32 L424 323.33 L425 323.33 L426 323.34 L427 323.35 L428 323.35 L429 323.36 L430 323.36 L431 323.37 L432 323.38 L433 323.38 L434 323.39 L435 323.39 L436 323.4 L437 323.4 L438 323.41 L439 323.42 L440 323.42 L441 323.43 L442 323.43 L443 323.44 L444 323.44 L445 323.45 L446 323.45 L447 323.46 L448 323.46 L449 323.46 L450 323.47 L451 323.47 L452 323.48 L453 323.48 L454 323.49 L455 323.49 L456 323.49 L457 323.5 L458 323.5 L459 323.51 L460 323.51 L461 323.51 L462 323.52 L463 323.52 L464 323.52 L465 323.53 L466 323.53 L467 323.53 L468 323.54 L469 323.54 L470 323.54 L471 323.55 L472 323.55 L473 323.55 L474 323.55 L475 323.56 L476 323.56 L477 323.56 L478 323.56 L479 323.57 L480 323.57 L481 323.57 L482 323.57 L483 323.57 L484 323.58 L485 323.58 L486 323.58 L487 323.58 L488 323.58 L489 323.58 L490 323.59 L491 323.59 L492 323.59 L493 323.59 L494 323.59 L495 323.59 L496 323.59 L497 323.59 L498 323.59 L499 323.6 L500 323.6 L501 323.6 L502 323.6 L503 323.6 L504 323.6 L505 323.6 L506 323.6 L507 323.6 L508 323.6 L509 323.6 L510 323.6 L511 323.59 L512 323.55 L513 323.49 L514 323.41 L515 323.31 L516 323.19 L517 323.06 L518 322.92 L519 322.77 L520 322.53 L520.2 322.47 L520.4 322.41 L520.6 322.34 L520.8 322.28 L521 322.2 L521.2 322.13 L521.4 322.05 L521.6 321.97 L521.8 321.89 L522 321.81 L522.2 321.73 L522.4 321.64 L522.6 321.56 L522.8 321.46 L523 321.36 L523.2 321.25 L523.4 321.14 L523.6 321.02 L523.8 320.89 L524 320.76 L524.2 320.63 L524.4 320.5 L524.4 345 L524.2 345.46 L524 345.9 L523.8 346.29 L523.6 346.6 L523.4 346.8 L523.2 346.93 L523 347.05 L522.8 347.16 L522.6 347.26 L522.4 347.34 L522.2 347.41 L522 347.46 L521.8 347.49 L521.6 347.5 L521.4 347.5 L521.2 347.49 L521 347.49 L520.8 347.47 L520.6 347.46 L520.4 347.45 L520.2 347.43 L520 347.41 L519 347.3 L518 347.13 L517 346.87 L516 346.55 L515 346.2 L514 345.79 L513 345.29 L512 344.74 L511 344.16 L510 343.6 L509 343.05 L508 342.48 L507 341.91 L506 341.33 L505 340.74 L504 340.15 L503 339.55 L502 338.95 L501 338.34 L500 337.73 L499 337.12 L498 336.51 L497 335.9 L496 335.29 L495 334.68 L494 334.07 L493 333.45 L492 332.83 L491 332.21 L490 331.58 L489 330.96 L488 330.33 L487 329.7 L486 329.07 L485 328.44 L484 327.81 L483 327.18 L482 326.55 L481 325.92 L480 325.3 L479 324.68 L478 324.06 L477 323.56 L476 323.56 L475 323.56 L474 323.55 L473 323.55 L472 323.55 L471 323.55 L470 323.54 L469 323.54 L468 323.54 L467 323.53 L466 323.53 L465 323.53 L464 323.52 L463 323.52 L462 323.52 L461 323.51 L460 323.51 L459 323.51 L458 323.5 L457 323.5 L456 323.49 L455 323.49 L454 323.49 L453 323.48 L452 323.48 L451 323.47 L450 323.47 L449 323.46 L448 323.46 L447 323.46 L446 323.45 L445 323.45 L444 323.44 L443 323.44 L442 323.43 L441 323.43 L440 323.42 L439 323.42 L438 323.41 L437 323.4 L436 323.4 L435 323.39 L434 323.39 L433 323.38 L432 323.38 L431 323.37 L430 323.36 L429 323.36 L428 323.35 L427 323.35 L426 323.34 L425 323.33 L424 323.33 L423 323.32 L422 323.31 L421 323.31 L420 323.3 L419 323.29 L418 323.29 L417 323.28 L416 323.27 L415 323.26 L414 323.25 L413 323.23 L412 323.22 L411 323.2 L410 323.19 L409 323.17 L408 323.15 L407 323.12 L406 323.1 L405 323.07 L404 323.04 L403 323.01 L402 322.97 L401 322.93 L400 322.89 L399 322.85 L398 322.8 L397 322.71 L396 322.55 L395 322.31 L394 322 L393 321.44 L392 320.39 L391.9 320.25 L391.8 320.1 L391.69 319.95 L391.59 319.79 L391.49 319.62 L391.39 319.43 L391.29 319.22 L391.18 318.97 L391.08 318.68 L390.98 318.34 L390.88 317.94 L390.77 317.46 L390.67 316.92 L390.57 316.28 L390.47 315.55 L390.37 314.63 Z" fill="#fdefe8"/>
<path d="M390.37 268.52 L390.47 268.55 L390.57 268.58 L390.67 268.6 L390.77 268.63 L390.88 268.66 L390.98 268.69 L391.08 268.72 L391.18 268.75 L391.29 268.78 L391.39 268.81 L391.49 268.84 L391.59 268.87 L391.69 268.89 L391.8 268.92 L391.9 268.95 L392 268.98 L393 269.27 L394 269.55 L395 269.83 L396 270.1 L397 270.36 L398 270.61 L399 270.85 L400 271.07 L401 271.28 L402 271.46 L403 271.62 L404 271.78 L405 271.94 L406 272.09 L407 272.24 L408 272.38 L409 272.52 L410 272.66 L411 272.79 L412 272.92 L413 273.05 L414 273.17 L415 273.3 L416 273.42 L417 273.53 L418 273.65 L419 273.76 L420 273.87 L421 273.97 L422 274.08 L423 274.18 L424 274.28 L425 274.38 L426 274.48 L427 274.58 L428 274.67 L429 274.77 L430 274.86 L431 274.95 L432 275.04 L433 275.13 L434 275.22 L435 275.31 L436 275.4 L437 275.49 L438 275.58 L439 275.67 L440 275.76 L441 275.85 L442 275.94 L443 276.03 L444 276.12 L445 276.22 L446 276.31 L447 276.4 L448 276.5 L449 276.6 L450 276.69 L451 276.79 L452 276.89 L453 276.98 L454 277.08 L455 277.18 L456 277.28 L457 277.38 L458 277.47 L459 277.57 L460 277.67 L461 277.77 L462 277.87 L463 277.97 L464 278.06 L465 278.16 L466 278.26 L467 278.36 L468 278.45 L469 278.55 L470 278.65 L471 278.74 L472 278.84 L473 278.93 L474 279.03 L475 279.12 L476 279.22 L477 279.31 L478 279.4 L479 279.49 L480 279.58 L481 279.68 L482 279.77 L483 279.85 L484 279.94 L485 280.03 L486 280.12 L487 280.2 L488 280.29 L489 280.37 L490 280.45 L491 280.54 L492 280.62 L493 280.7 L494 280.77 L495 280.85 L496 280.93 L497 281 L498 281.07 L499 281.15 L500 281.22 L501 281.29 L502 281.36 L503 281.42 L504 281.49 L505 281.55 L506 281.61 L507 281.67 L508 281.73 L509 281.79 L510 281.84 L511 281.9 L512 281.95 L513 282 L514 282.05 L515 282.11 L516 282.15 L517 282.19 L518 282.2 L519 282.1 L520 281.87 L520.2 281.82 L520.4 281.77 L520.6 281.71 L520.8 281.65 L521 281.6 L521.2 281.54 L521.4 281.48 L521.6 281.42 L521.8 281.35 L522 281.28 L522.2 281.21 L522.4 281.13 L522.6 281.05 L522.8 280.97 L523 280.88 L523.2 280.79 L523.4 280.7 L523.6 280.6 L523.8 280.51 L524 280.41 L524.2 280.3 L524.4 280.2 L524.4 320.5 L524.2 320.63 L524 320.76 L523.8 320.89 L523.6 321.02 L523.4 321.14 L523.2 321.25 L523 321.36 L522.8 321.46 L522.6 321.56 L522.4 321.64 L522.2 321.73 L522 321.81 L521.8 321.89 L521.6 321.97 L521.4 322.05 L521.2 322.13 L521 322.2 L520.8 322.28 L520.6 322.34 L520.4 322.41 L520.2 322.47 L520 322.53 L519 322.77 L518 322.92 L517 323.06 L516 323.19 L515 323.31 L514 323.41 L513 323.49 L512 323.55 L511 323.59 L510 323.6 L509 323.6 L508 323.6 L507 323.6 L506 323.6 L505 323.6 L504 323.6 L503 323.6 L502 323.6 L501 323.6 L500 323.6 L499 323.6 L498 323.59 L497 323.59 L496 323.59 L495 323.59 L494 323.59 L493 323.59 L492 323.59 L491 323.59 L490 323.59 L489 323.58 L488 323.58 L487 323.58 L486 323.58 L485 323.58 L484 323.58 L483 323.57 L482 323.57 L481 323.57 L480 323.57 L479 323.57 L478 323.56 L477 323.44 L476 322.83 L475 322.22 L474 321.61 L473 321.01 L472 320.4 L471 319.8 L470 319.2 L469 318.6 L468 318 L467 317.4 L466 316.81 L465 316.21 L464 315.61 L463 315.02 L462 314.42 L461 313.82 L460 313.22 L459 312.62 L458 312.02 L457 311.42 L456 310.82 L455 310.21 L454 309.61 L453 309 L452 308.39 L451 307.77 L450 307.16 L449 306.54 L448 305.91 L447 305.29 L446 304.66 L445 304.02 L444 303.38 L443 302.74 L442 302.1 L441 301.45 L440 300.81 L439 300.15 L438 299.5 L437 298.85 L436 298.19 L435 297.54 L434 296.88 L433 296.22 L432 295.57 L431 294.91 L430 294.25 L429 293.59 L428 292.94 L427 292.28 L426 291.63 L425 290.98 L424 290.33 L423 289.68 L422 289.03 L421 288.39 L420 287.75 L419 287.11 L418 286.48 L417 285.85 L416 285.23 L415 284.6 L414 283.98 L413 283.36 L412 282.73 L411 282.11 L410 281.48 L409 280.86 L408 280.22 L407 279.59 L406 278.95 L405 278.3 L404 277.65 L403 276.99 L402 276.32 L401 275.65 L400 274.97 L399 274.3 L398 273.62 L397 272.94 L396 272.27 L395 271.59 L394 270.92 L393 270.26 L392 269.6 L391.9 269.54 L391.8 269.49 L391.69 269.44 L391.59 269.4 L391.49 269.37 L391.39 269.34 L391.29 269.3 L391.18 269.26 L391.08 269.22 L390.98 269.17 L390.88 269.11 L390.77 269.04 L390.67 268.96 L390.57 268.86 L390.47 268.74 L390.37 268.6 Z" fill="#e6e9eb"/>
<path d="M389.55 231.8 L389.65 237.31 L389.75 242.66 L389.86 247.84 L389.96 253.14 L390.06 259.3 L390.16 264.87 L390.26 268.18 L390.37 268.6 L390.37 314.63 L390.26 312.45 L390.16 308.74 L390.06 303.63 L389.96 296.33 L389.86 281.12 L389.75 271 L389.65 271 L389.55 271 Z" fill="#e5f5fc"/>
<path d="M524.45 309.6 L524.55 304.44 L524.65 297.15 L524.76 293.09 L524.86 290.6 L524.96 289.33 L525.06 288.34 L525.16 287.52 L525.27 286.86 L525.37 286.33 L525.47 285.94 L525.57 285.66 L525.67 285.46 L525.78 285.27 L525.88 285.1 L525.98 284.94 L526.08 284.78 L526.18 284.64 L526.29 284.51 L526.39 284.39 L526.49 284.28 L526.59 284.18 L526.69 284.08 L526.8 284 L526.9 283.93 L527 283.87 L528 283.64 L529.01 283.56 L530.01 283.52 L531.02 283.5 L532.02 283.5 L533.02 283.5 L534.03 283.5 L535.03 283.5 L536.03 283.5 L537.04 283.5 L538.04 283.5 L539.05 283.5 L540.05 283.5 L541.05 283.5 L542.06 283.5 L543.06 283.5 L544.07 283.5 L545.07 283.5 L546.07 283.5 L547.08 283.5 L548.08 283.5 L549.08 283.5 L550.09 283.5 L551.09 283.5 L552.1 283.5 L553.1 283.5 L554.1 283.5 L555.11 283.5 L556.11 283.5 L557.12 283.5 L558.12 283.5 L559.12 283.5 L560.13 283.5 L561.13 283.5 L562.13 283.5 L563.14 283.51 L564.14 283.51 L565.15 283.51 L566.15 283.51 L567.15 283.51 L568.16 283.51 L569.16 283.14 L570.17 282.52 L571.17 281.9 L572.17 281.29 L573.18 280.67 L574.18 280.05 L575.18 279.42 L576.19 278.8 L577.19 278.17 L578.2 277.55 L579.2 276.92 L580.2 276.29 L581.21 275.66 L582.21 275.03 L583.22 274.4 L584.22 273.77 L585.22 273.14 L586.23 272.5 L587.23 271.87 L588.23 271.24 L589.24 270.6 L590.24 269.97 L591.25 269.33 L592.25 268.7 L593.25 268.06 L594.26 267.43 L595.26 266.79 L596.27 266.16 L597.27 265.52 L598.27 264.89 L599.28 264.26 L600.28 263.62 L601.28 262.99 L602.29 262.34 L603.29 261.7 L604.3 261.05 L605.3 260.4 L606.3 259.74 L607.31 259.08 L608.31 258.42 L609.32 257.75 L610.32 257.08 L611.32 256.41 L612.33 255.74 L613.33 255.07 L614.33 254.39 L615.34 253.72 L616.34 253.04 L617.35 252.36 L618.35 251.69 L619.35 251.01 L620.36 250.34 L621.36 249.66 L622.37 248.99 L623.37 248.32 L624.37 247.65 L625.38 246.98 L626.38 246.31 L627.38 245.65 L628.39 244.99 L629.39 244.33 L630.4 243.68 L631.4 243.03 L632.4 242.39 L633.41 241.75 L634.41 241.11 L635.42 240.48 L636.42 239.85 L637.42 239.23 L638.43 238.62 L639.43 238.01 L640.43 237.41 L641.44 236.81 L642.44 236.22 L643.45 235.64 L644.45 235.07 L645.45 234.5 L646.46 233.95 L647.46 233.4 L648.47 232.86 L649.47 232.33 L650.47 231.79 L651.48 231.17 L652.48 230.63 L653.48 230.4 L654.49 230.48 L655.49 230.76 L656.5 231.26 L657.5 232 L657.5 284.6 L656.5 284.53 L655.49 284.46 L654.49 284.39 L653.48 284.31 L652.48 284.24 L651.48 284.16 L650.47 284.09 L649.47 284.01 L648.47 283.94 L647.46 283.88 L646.46 283.82 L645.45 283.76 L644.45 283.71 L643.45 283.67 L642.44 283.64 L641.44 283.61 L640.43 283.6 L639.43 283.6 L638.43 283.6 L637.42 283.59 L636.42 283.59 L635.42 283.59 L634.41 283.59 L633.41 283.59 L632.4 283.58 L631.4 283.58 L630.4 283.58 L629.39 283.58 L628.39 283.57 L627.38 283.57 L626.38 283.57 L625.38 283.57 L624.37 283.57 L623.37 283.57 L622.37 283.56 L621.36 283.56 L620.36 283.56 L619.35 283.56 L618.35 283.56 L617.35 283.56 L616.34 283.55 L615.34 283.55 L614.33 283.55 L613.33 283.55 L612.33 283.55 L611.32 283.55 L610.32 283.54 L609.32 283.54 L608.31 283.54 L607.31 283.54 L606.3 283.54 L605.3 283.54 L604.3 283.54 L603.29 283.54 L602.29 283.53 L601.28 283.53 L600.28 283.53 L599.28 283.53 L598.27 283.53 L597.27 283.53 L596.27 283.53 L595.26 283.53 L594.26 283.53 L593.25 283.52 L592.25 283.52 L591.25 283.52 L590.24 283.52 L589.24 283.52 L588.23 283.52 L587.23 283.52 L586.23 283.52 L585.22 283.52 L584.22 283.52 L583.22 283.52 L582.21 283.52 L581.21 283.51 L580.2 283.51 L579.2 283.51 L578.2 283.51 L577.19 283.51 L576.19 283.51 L575.18 283.51 L574.18 283.51 L573.18 283.51 L572.17 283.51 L571.17 283.51 L570.17 283.51 L569.16 283.51 L568.16 283.51 L567.15 283.51 L566.15 283.51 L565.15 283.51 L564.14 283.51 L563.14 283.51 L562.13 283.5 L561.13 283.5 L560.13 283.5 L559.12 283.5 L558.12 283.5 L557.12 283.5 L556.11 283.5 L555.11 283.5 L554.1 283.5 L553.1 283.5 L552.1 283.5 L551.09 283.5 L550.09 283.5 L549.08 283.5 L548.08 283.5 L547.08 283.5 L546.07 283.5 L545.07 283.5 L544.07 283.5 L543.06 283.5 L542.06 283.5 L541.05 283.5 L540.05 283.5 L539.05 283.5 L538.04 283.5 L537.04 283.5 L536.03 283.5 L535.03 283.5 L534.03 283.5 L533.02 283.5 L532.02 283.5 L531.02 283.5 L530.01 283.52 L529.01 283.56 L528 283.64 L527 283.87 L526.9 283.93 L526.8 284 L526.69 284.08 L526.59 284.18 L526.49 284.28 L526.39 284.39 L526.29 284.51 L526.18 284.64 L526.08 284.78 L525.98 284.94 L525.88 285.1 L525.78 285.27 L525.67 285.46 L525.57 285.66 L525.47 285.94 L525.37 286.33 L525.27 286.86 L525.16 287.52 L525.06 288.34 L524.96 289.33 L524.86 290.6 L524.76 293.09 L524.65 297.15 L524.55 304.44 L524.45 320.5 Z" fill="#e5f5fc"/>
<path d="M524.45 320.5 L524.55 304.44 L524.65 297.15 L524.76 293.09 L524.86 290.6 L524.96 289.33 L525.06 288.34 L525.16 287.52 L525.27 286.86 L525.37 286.33 L525.47 285.94 L525.57 285.66 L525.67 285.46 L525.78 285.27 L525.88 285.1 L525.98 284.94 L526.08 284.78 L526.18 284.64 L526.29 284.51 L526.39 284.39 L526.49 284.28 L526.59 284.18 L526.69 284.08 L526.8 284 L526.9 283.93 L527 283.87 L528 283.64 L529.01 283.56 L530.01 283.52 L531.02 283.5 L532.02 283.5 L533.02 283.5 L534.03 283.5 L535.03 283.5 L536.03 283.5 L537.04 283.5 L538.04 283.5 L539.05 283.5 L540.05 283.5 L541.05 283.5 L542.06 283.5 L543.06 283.5 L544.07 283.5 L545.07 283.5 L546.07 283.5 L547.08 283.5 L548.08 283.5 L549.08 283.5 L550.09 283.5 L551.09 283.5 L552.1 283.5 L553.1 283.5 L554.1 283.5 L555.11 283.5 L556.11 283.5 L557.12 283.5 L558.12 283.5 L559.12 283.5 L560.13 283.5 L561.13 283.5 L562.13 283.5 L563.14 283.51 L564.14 283.51 L565.15 283.51 L566.15 283.51 L567.15 283.51 L568.16 283.51 L569.16 283.51 L570.17 283.51 L571.17 283.51 L572.17 283.51 L573.18 283.51 L574.18 283.51 L575.18 283.51 L576.19 283.51 L577.19 283.51 L578.2 283.51 L579.2 283.51 L580.2 283.51 L581.21 283.51 L582.21 283.52 L583.22 283.52 L584.22 283.52 L585.22 283.52 L586.23 283.52 L587.23 283.52 L588.23 283.52 L589.24 283.52 L590.24 283.52 L591.25 283.52 L592.25 283.52 L593.25 283.52 L594.26 283.53 L595.26 283.53 L596.27 283.53 L597.27 283.53 L598.27 283.53 L599.28 283.53 L600.28 283.53 L601.28 283.53 L602.29 283.53 L603.29 283.54 L604.3 283.54 L605.3 283.54 L606.3 283.54 L607.31 283.54 L608.31 283.54 L609.32 283.54 L610.32 283.54 L611.32 283.55 L612.33 283.55 L613.33 283.55 L614.33 283.55 L615.34 283.55 L616.34 283.55 L617.35 283.56 L618.35 283.56 L619.35 283.56 L620.36 283.56 L621.36 283.56 L622.37 283.56 L623.37 283.57 L624.37 283.57 L625.38 283.57 L626.38 283.57 L627.38 283.57 L628.39 283.57 L629.39 283.58 L630.4 283.58 L631.4 283.58 L632.4 283.58 L633.41 283.59 L634.41 283.59 L635.42 283.59 L636.42 283.59 L637.42 283.59 L638.43 283.6 L639.43 283.6 L640.43 283.6 L641.44 283.61 L642.44 283.64 L643.45 283.67 L644.45 283.71 L645.45 283.76 L646.46 283.82 L647.46 283.88 L648.47 283.94 L649.47 284.01 L650.47 284.09 L651.48 284.16 L652.48 284.24 L653.48 284.31 L654.49 284.39 L655.49 284.46 L656.5 284.53 L657.5 284.6 L657.5 284.6 L656.5 284.53 L655.49 284.46 L654.49 284.39 L653.48 284.31 L652.48 284.24 L651.48 284.16 L650.47 284.09 L649.47 284.01 L648.47 283.94 L647.46 283.88 L646.46 283.82 L645.45 283.76 L644.45 283.71 L643.45 283.67 L642.44 283.64 L641.44 283.61 L640.43 283.6 L639.43 283.6 L638.43 283.6 L637.42 283.59 L636.42 283.59 L635.42 283.59 L634.41 283.59 L633.41 283.59 L632.4 283.58 L631.4 283.58 L630.4 283.58 L629.39 283.58 L628.39 283.57 L627.38 283.57 L626.38 283.57 L625.38 283.57 L624.37 283.57 L623.37 283.57 L622.37 283.56 L621.36 283.56 L620.36 283.56 L619.35 283.56 L618.35 283.56 L617.35 283.56 L616.34 283.55 L615.34 283.55 L614.33 283.55 L613.33 283.55 L612.33 283.55 L611.32 283.55 L610.32 283.54 L609.32 283.54 L608.31 283.54 L607.31 283.54 L606.3 283.54 L605.3 283.54 L604.3 283.54 L603.29 283.54 L602.29 283.53 L601.28 283.53 L600.28 283.53 L599.28 283.53 L598.27 283.53 L597.27 283.53 L596.27 283.53 L595.26 283.53 L594.26 283.53 L593.25 283.52 L592.25 283.52 L591.25 283.52 L590.24 283.52 L589.24 283.52 L588.23 283.52 L587.23 283.52 L586.23 283.52 L585.22 283.52 L584.22 283.52 L583.22 283.52 L582.21 283.52 L581.21 283.51 L580.2 283.51 L579.2 283.51 L578.2 283.51 L577.19 283.51 L576.19 283.51 L575.18 283.51 L574.18 283.51 L573.18 283.51 L572.17 283.51 L571.17 283.51 L570.17 283.51 L569.16 283.51 L568.16 283.75 L567.15 284.36 L566.15 284.97 L565.15 285.58 L564.14 286.19 L563.14 286.81 L562.13 287.42 L561.13 288.03 L560.13 288.64 L559.12 289.24 L558.12 289.85 L557.12 290.46 L556.11 291.07 L555.11 291.67 L554.1 292.28 L553.1 292.88 L552.1 293.49 L551.09 294.09 L550.09 294.69 L549.08 295.29 L548.08 295.89 L547.08 296.49 L546.07 297.09 L545.07 297.69 L544.07 298.28 L543.06 298.88 L542.06 299.47 L541.05 300.06 L540.05 300.65 L539.05 301.24 L538.04 301.83 L537.04 302.41 L536.03 303 L535.03 303.58 L534.03 304.16 L533.02 304.74 L532.02 305.32 L531.02 305.89 L530.01 306.47 L529.01 307.04 L528 307.61 L527 308.18 L526.9 308.23 L526.8 308.29 L526.69 308.35 L526.59 308.41 L526.49 308.46 L526.39 308.52 L526.29 308.58 L526.18 308.64 L526.08 308.69 L525.98 308.75 L525.88 308.81 L525.78 308.86 L525.67 308.92 L525.57 308.98 L525.47 309.04 L525.37 309.09 L525.27 309.15 L525.16 309.21 L525.06 309.27 L524.96 309.32 L524.86 309.38 L524.76 309.43 L524.65 309.49 L524.55 309.54 L524.45 320.5 Z" fill="#fdefe8"/>
<path d="M524.45 281.5 L524.55 266.67 L524.65 258.25 L524.76 252.38 L524.86 248.7 L524.96 247.41 L525.06 246.58 L525.16 245.91 L525.27 245.4 L525.37 245 L525.47 244.7 L525.57 244.46 L525.67 244.25 L525.78 244.07 L525.88 243.89 L525.98 243.73 L526.08 243.59 L526.18 243.46 L526.29 243.34 L526.39 243.24 L526.49 243.16 L526.59 243.09 L526.69 243.04 L526.8 243 L526.9 242.98 L527 242.95 L528 242.7 L529.01 242.46 L530.01 242.22 L531.02 242 L532.02 241.78 L533.02 241.57 L534.03 241.36 L535.03 241.17 L536.03 240.98 L537.04 240.8 L538.04 240.62 L539.05 240.45 L540.05 240.29 L541.05 240.13 L542.06 239.98 L543.06 239.84 L544.07 239.7 L545.07 239.56 L546.07 239.43 L547.08 239.31 L548.08 239.19 L549.08 239.08 L550.09 238.97 L551.09 238.87 L552.1 238.77 L553.1 238.67 L554.1 238.58 L555.11 238.49 L556.11 238.4 L557.12 238.32 L558.12 238.24 L559.12 238.17 L560.13 238.1 L561.13 238.03 L562.13 237.96 L563.14 237.9 L564.14 237.83 L565.15 237.77 L566.15 237.71 L567.15 237.66 L568.16 237.6 L569.16 237.55 L570.17 237.49 L571.17 237.44 L572.17 237.39 L573.18 237.34 L574.18 237.29 L575.18 237.24 L576.19 237.19 L577.19 237.14 L578.2 237.09 L579.2 237.04 L580.2 236.99 L581.21 236.94 L582.21 236.88 L583.22 236.83 L584.22 236.77 L585.22 236.72 L586.23 236.66 L587.23 236.6 L588.23 236.54 L589.24 236.47 L590.24 236.4 L591.25 236.34 L592.25 236.26 L593.25 236.19 L594.26 236.11 L595.26 236.03 L596.27 235.95 L597.27 235.86 L598.27 235.77 L599.28 235.67 L600.28 235.57 L601.28 235.47 L602.29 235.36 L603.29 235.25 L604.3 235.14 L605.3 235.02 L606.3 234.91 L607.31 234.79 L608.31 234.66 L609.32 234.54 L610.32 234.41 L611.32 234.28 L612.33 234.16 L613.33 234.03 L614.33 233.89 L615.34 233.76 L616.34 233.63 L617.35 233.5 L618.35 233.36 L619.35 233.23 L620.36 233.1 L621.36 232.97 L622.37 232.84 L623.37 232.71 L624.37 232.58 L625.38 232.45 L626.38 232.33 L627.38 232.2 L628.39 232.08 L629.39 231.96 L630.4 231.84 L631.4 231.73 L632.4 231.62 L633.41 231.51 L634.41 231.4 L635.42 231.3 L636.42 231.2 L637.42 231.11 L638.43 231.02 L639.43 230.93 L640.43 230.85 L641.44 230.78 L642.44 230.7 L643.45 230.64 L644.45 230.58 L645.45 230.52 L646.46 230.47 L647.46 230.43 L648.47 230.39 L649.47 230.36 L650.47 230.33 L651.48 230.31 L652.48 230.3 L653.48 230.3 L654.49 230.42 L655.49 230.73 L656.5 231.13 L657.5 231.5 L657.5 232 L656.5 231.26 L655.49 230.76 L654.49 230.48 L653.48 230.4 L652.48 230.63 L651.48 231.17 L650.47 231.79 L649.47 232.33 L648.47 232.86 L647.46 233.4 L646.46 233.95 L645.45 234.5 L644.45 235.07 L643.45 235.64 L642.44 236.22 L641.44 236.81 L640.43 237.41 L639.43 238.01 L638.43 238.62 L637.42 239.23 L636.42 239.85 L635.42 240.48 L634.41 241.11 L633.41 241.75 L632.4 242.39 L631.4 243.03 L630.4 243.68 L629.39 244.33 L628.39 244.99 L627.38 245.65 L626.38 246.31 L625.38 246.98 L624.37 247.65 L623.37 248.32 L622.37 248.99 L621.36 249.66 L620.36 250.34 L619.35 251.01 L618.35 251.69 L617.35 252.36 L616.34 253.04 L615.34 253.72 L614.33 254.39 L613.33 255.07 L612.33 255.74 L611.32 256.41 L610.32 257.08 L609.32 257.75 L608.31 258.42 L607.31 259.08 L606.3 259.74 L605.3 260.4 L604.3 261.05 L603.29 261.7 L602.29 262.34 L601.28 262.99 L600.28 263.62 L599.28 264.26 L598.27 264.89 L597.27 265.52 L596.27 266.16 L595.26 266.79 L594.26 267.43 L593.25 268.06 L592.25 268.7 L591.25 269.33 L590.24 269.97 L589.24 270.6 L588.23 271.24 L587.23 271.87 L586.23 272.5 L585.22 273.14 L584.22 273.77 L583.22 274.4 L582.21 275.03 L581.21 275.66 L580.2 276.29 L579.2 276.92 L578.2 277.55 L577.19 278.17 L576.19 278.8 L575.18 279.42 L574.18 280.05 L573.18 280.67 L572.17 281.29 L571.17 281.9 L570.17 282.52 L569.16 283.14 L568.16 283.51 L567.15 283.51 L566.15 283.51 L565.15 283.51 L564.14 283.51 L563.14 283.51 L562.13 283.5 L561.13 283.5 L560.13 283.5 L559.12 283.5 L558.12 283.5 L557.12 283.5 L556.11 283.5 L555.11 283.5 L554.1 283.5 L553.1 283.5 L552.1 283.5 L551.09 283.5 L550.09 283.5 L549.08 283.5 L548.08 283.5 L547.08 283.5 L546.07 283.5 L545.07 283.5 L544.07 283.5 L543.06 283.5 L542.06 283.5 L541.05 283.5 L540.05 283.5 L539.05 283.5 L538.04 283.5 L537.04 283.5 L536.03 283.5 L535.03 283.5 L534.03 283.5 L533.02 283.5 L532.02 283.5 L531.02 283.5 L530.01 283.52 L529.01 283.56 L528 283.64 L527 283.87 L526.9 283.93 L526.8 284 L526.69 284.08 L526.59 284.18 L526.49 284.28 L526.39 284.39 L526.29 284.51 L526.18 284.64 L526.08 284.78 L525.98 284.94 L525.88 285.1 L525.78 285.27 L525.67 285.46 L525.57 285.66 L525.47 285.94 L525.37 286.33 L525.27 286.86 L525.16 287.52 L525.06 288.34 L524.96 289.33 L524.86 290.6 L524.76 293.09 L524.65 297.15 L524.55 304.44 L524.45 309.6 Z" fill="#e6e9eb"/>
<path d="M387 211.8 L657.5 211.8" stroke="#c4c4c4" stroke-width="1.3" fill="none"/>
<path d="M657.5 211.8 L657.5 371.5" stroke="#8a8a8a" stroke-width="1.1" fill="none"/>
<path d="M389.5 211.8 L389.5 371.5 L657.5 371.5" stroke="#6a6a6a" stroke-width="1" fill="none"/>
<path d="M389.5 371.5 L389.5 374" stroke="#6a6a6a" stroke-width="0.9"/>
<text x="389.5" y="382.9" font-size="7.6" text-anchor="middle" fill="#333" stroke="#333" stroke-width="0.15">0</text>
<path d="M456.5 371.5 L456.5 374" stroke="#6a6a6a" stroke-width="0.9"/>
<text x="456.5" y="382.9" font-size="7.6" text-anchor="middle" fill="#333" stroke="#333" stroke-width="0.15">50</text>
<path d="M523.5 371.5 L523.5 374" stroke="#6a6a6a" stroke-width="0.9"/>
<text x="523.5" y="382.9" font-size="7.6" text-anchor="middle" fill="#333" stroke="#333" stroke-width="0.15">100</text>
<path d="M590.5 371.5 L590.5 374" stroke="#6a6a6a" stroke-width="0.9"/>
<text x="590.5" y="382.9" font-size="7.6" text-anchor="middle" fill="#333" stroke="#333" stroke-width="0.15">150</text>
<path d="M657.5 371.5 L657.5 374" stroke="#6a6a6a" stroke-width="0.9"/>
<text x="657.5" y="382.9" font-size="7.6" text-anchor="middle" fill="#333" stroke="#333" stroke-width="0.15">200</text>
<path d="M387 211.8 L389.5 211.8" stroke="#6a6a6a" stroke-width="0.9"/>
<text x="383.3" y="214.5" font-size="7.6" text-anchor="end" fill="#333" stroke="#333" stroke-width="0.15">2</text>
<path d="M387 243.74 L389.5 243.74" stroke="#6a6a6a" stroke-width="0.9"/>
<text x="383.3" y="246.44" font-size="7.6" text-anchor="end" fill="#333" stroke="#333" stroke-width="0.15">0</text>
<path d="M387 275.68 L389.5 275.68" stroke="#6a6a6a" stroke-width="0.9"/>
<text x="383.3" y="278.38" font-size="7.6" text-anchor="end" fill="#333" stroke="#333" stroke-width="0.15">−2</text>
<path d="M387 307.62 L389.5 307.62" stroke="#6a6a6a" stroke-width="0.9"/>
<text x="383.3" y="310.32" font-size="7.6" text-anchor="end" fill="#333" stroke="#333" stroke-width="0.15">−4</text>
<path d="M387 339.56 L389.5 339.56" stroke="#6a6a6a" stroke-width="0.9"/>
<text x="383.3" y="342.26" font-size="7.6" text-anchor="end" fill="#333" stroke="#333" stroke-width="0.15">−6</text>
<path d="M387 371.5 L389.5 371.5" stroke="#6a6a6a" stroke-width="0.9"/>
<text x="383.3" y="374.2" font-size="7.6" text-anchor="end" fill="#333" stroke="#333" stroke-width="0.15">−8</text>
<path d="M523.5 211.8 L523.5 371.5" stroke="#a4a4a4" stroke-width="1.1" stroke-dasharray="3 2.2"/>
<rect x="565.4" y="299" width="32.6" height="57.4" fill="#e6f5fc"/>
<rect x="613.6" y="299" width="35" height="57.4" fill="#a3dcf5"/>
<path d="M565.4 299 L565.4 356.4 M648.6 299 L648.6 356.4" stroke="#9a9a9a" stroke-width="0.6" stroke-dasharray="1.6 1.2"/>
<path d="M565.4 343.6 L596 343.6 M615.6 312 L648.6 312" stroke="#c1272d" stroke-width="1.2"/>
<path d="M599 298.5 Q605.8 298 612.6 298.5 Q616.6 299 616.3 304 Q617.8 314 616 327 Q615.4 341 616.9 351.4 Q616.6 356.4 612.6 356.4 Q605.8 356.9 599 356.4 Q595 356.4 595.2 351.4 Q596.4 336.4 594.6 324 Q594 311 595.2 304 Q595 299 599 298.5 Z" fill="#efefef" stroke="#7a7a7a" stroke-width="0.6"/>
<text x="570" y="340" font-size="7.6" text-anchor="start" fill="#2b2b2b"  stroke="#2b2b2b" stroke-width="0.12">20 mM</text>
<text x="618.6" y="309" font-size="7.6" text-anchor="start" fill="#2b2b2b"  stroke="#2b2b2b" stroke-width="0.12">180 mM</text>
<text x="605.8" y="365.8" font-size="8.6" text-anchor="middle" fill="#222"  stroke="#222" stroke-width="0.12">CSE</text>
<path d="M389.55 231.8 L389.65 237.31 L389.75 242.66 L389.86 247.84 L389.96 253.14 L390.06 259.3 L390.16 264.87 L390.26 268.18 L390.37 268.6 L390.47 268.74 L390.57 268.86 L390.67 268.96 L390.77 269.04 L390.88 269.11 L390.98 269.17 L391.08 269.22 L391.18 269.26 L391.29 269.3 L391.39 269.34 L391.49 269.37 L391.59 269.4 L391.69 269.44 L391.8 269.49 L391.9 269.54 L392 269.6 L393 270.26 L394 270.92 L395 271.59 L396 272.27 L397 272.94 L398 273.62 L399 274.3 L400 274.97 L401 275.65 L402 276.32 L403 276.99 L404 277.65 L405 278.3 L406 278.95 L407 279.59 L408 280.22 L409 280.86 L410 281.48 L411 282.11 L412 282.73 L413 283.36 L414 283.98 L415 284.6 L416 285.23 L417 285.85 L418 286.48 L419 287.11 L420 287.75 L421 288.39 L422 289.03 L423 289.68 L424 290.33 L425 290.98 L426 291.63 L427 292.28 L428 292.94 L429 293.59 L430 294.25 L431 294.91 L432 295.57 L433 296.22 L434 296.88 L435 297.54 L436 298.19 L437 298.85 L438 299.5 L439 300.15 L440 300.81 L441 301.45 L442 302.1 L443 302.74 L444 303.38 L445 304.02 L446 304.66 L447 305.29 L448 305.91 L449 306.54 L450 307.16 L451 307.77 L452 308.39 L453 309 L454 309.61 L455 310.21 L456 310.82 L457 311.42 L458 312.02 L459 312.62 L460 313.22 L461 313.82 L462 314.42 L463 315.02 L464 315.61 L465 316.21 L466 316.81 L467 317.4 L468 318 L469 318.6 L470 319.2 L471 319.8 L472 320.4 L473 321.01 L474 321.61 L475 322.22 L476 322.83 L477 323.44 L478 324.06 L479 324.68 L480 325.3 L481 325.92 L482 326.55 L483 327.18 L484 327.81 L485 328.44 L486 329.07 L487 329.7 L488 330.33 L489 330.96 L490 331.58 L491 332.21 L492 332.83 L493 333.45 L494 334.07 L495 334.68 L496 335.29 L497 335.9 L498 336.51 L499 337.12 L500 337.73 L501 338.34 L502 338.95 L503 339.55 L504 340.15 L505 340.74 L506 341.33 L507 341.91 L508 342.48 L509 343.05 L510 343.6 L511 344.16 L512 344.74 L513 345.29 L514 345.79 L515 346.2 L516 346.55 L517 346.87 L518 347.13 L519 347.3 L520 347.41 L520.2 347.43 L520.4 347.45 L520.6 347.46 L520.8 347.47 L521 347.49 L521.2 347.49 L521.4 347.5 L521.6 347.5 L521.8 347.49 L522 347.46 L522.2 347.41 L522.4 347.34 L522.6 347.26 L522.8 347.16 L523 347.05 L523.2 346.93 L523.4 346.8 L523.6 346.6 L523.8 346.29 L524 345.9 L524.2 345.46 L524.4 345 L524.45 309.6 L524.55 309.54 L524.65 309.49 L524.76 309.43 L524.86 309.38 L524.96 309.32 L525.06 309.27 L525.16 309.21 L525.27 309.15 L525.37 309.09 L525.47 309.04 L525.57 308.98 L525.67 308.92 L525.78 308.86 L525.88 308.81 L525.98 308.75 L526.08 308.69 L526.18 308.64 L526.29 308.58 L526.39 308.52 L526.49 308.46 L526.59 308.41 L526.69 308.35 L526.8 308.29 L526.9 308.23 L527 308.18 L528 307.61 L529.01 307.04 L530.01 306.47 L531.02 305.89 L532.02 305.32 L533.02 304.74 L534.03 304.16 L535.03 303.58 L536.03 303 L537.04 302.41 L538.04 301.83 L539.05 301.24 L540.05 300.65 L541.05 300.06 L542.06 299.47 L543.06 298.88 L544.07 298.28 L545.07 297.69 L546.07 297.09 L547.08 296.49 L548.08 295.89 L549.08 295.29 L550.09 294.69 L551.09 294.09 L552.1 293.49 L553.1 292.88 L554.1 292.28 L555.11 291.67 L556.11 291.07 L557.12 290.46 L558.12 289.85 L559.12 289.24 L560.13 288.64 L561.13 288.03 L562.13 287.42 L563.14 286.81 L564.14 286.19 L565.15 285.58 L566.15 284.97 L567.15 284.36 L568.16 283.75 L569.16 283.14 L570.17 282.52 L571.17 281.9 L572.17 281.29 L573.18 280.67 L574.18 280.05 L575.18 279.42 L576.19 278.8 L577.19 278.17 L578.2 277.55 L579.2 276.92 L580.2 276.29 L581.21 275.66 L582.21 275.03 L583.22 274.4 L584.22 273.77 L585.22 273.14 L586.23 272.5 L587.23 271.87 L588.23 271.24 L589.24 270.6 L590.24 269.97 L591.25 269.33 L592.25 268.7 L593.25 268.06 L594.26 267.43 L595.26 266.79 L596.27 266.16 L597.27 265.52 L598.27 264.89 L599.28 264.26 L600.28 263.62 L601.28 262.99 L602.29 262.34 L603.29 261.7 L604.3 261.05 L605.3 260.4 L606.3 259.74 L607.31 259.08 L608.31 258.42 L609.32 257.75 L610.32 257.08 L611.32 256.41 L612.33 255.74 L613.33 255.07 L614.33 254.39 L615.34 253.72 L616.34 253.04 L617.35 252.36 L618.35 251.69 L619.35 251.01 L620.36 250.34 L621.36 249.66 L622.37 248.99 L623.37 248.32 L624.37 247.65 L625.38 246.98 L626.38 246.31 L627.38 245.65 L628.39 244.99 L629.39 244.33 L630.4 243.68 L631.4 243.03 L632.4 242.39 L633.41 241.75 L634.41 241.11 L635.42 240.48 L636.42 239.85 L637.42 239.23 L638.43 238.62 L639.43 238.01 L640.43 237.41 L641.44 236.81 L642.44 236.22 L643.45 235.64 L644.45 235.07 L645.45 234.5 L646.46 233.95 L647.46 233.4 L648.47 232.86 L649.47 232.33 L650.47 231.79 L651.48 231.17 L652.48 230.63 L653.48 230.4 L654.49 230.48 L655.49 230.76 L656.5 231.26 L657.5 232" fill="none" stroke="#111" stroke-width="1.7" stroke-linejoin="round"/>
<path d="M390.37 268.52 L390.47 268.55 L390.57 268.58 L390.67 268.6 L390.77 268.63 L390.88 268.66 L390.98 268.69 L391.08 268.72 L391.18 268.75 L391.29 268.78 L391.39 268.81 L391.49 268.84 L391.59 268.87 L391.69 268.89 L391.8 268.92 L391.9 268.95 L392 268.98 L393 269.27 L394 269.55 L395 269.83 L396 270.1 L397 270.36 L398 270.61 L399 270.85 L400 271.07 L401 271.28 L402 271.46 L403 271.62 L404 271.78 L405 271.94 L406 272.09 L407 272.24 L408 272.38 L409 272.52 L410 272.66 L411 272.79 L412 272.92 L413 273.05 L414 273.17 L415 273.3 L416 273.42 L417 273.53 L418 273.65 L419 273.76 L420 273.87 L421 273.97 L422 274.08 L423 274.18 L424 274.28 L425 274.38 L426 274.48 L427 274.58 L428 274.67 L429 274.77 L430 274.86 L431 274.95 L432 275.04 L433 275.13 L434 275.22 L435 275.31 L436 275.4 L437 275.49 L438 275.58 L439 275.67 L440 275.76 L441 275.85 L442 275.94 L443 276.03 L444 276.12 L445 276.22 L446 276.31 L447 276.4 L448 276.5 L449 276.6 L450 276.69 L451 276.79 L452 276.89 L453 276.98 L454 277.08 L455 277.18 L456 277.28 L457 277.38 L458 277.47 L459 277.57 L460 277.67 L461 277.77 L462 277.87 L463 277.97 L464 278.06 L465 278.16 L466 278.26 L467 278.36 L468 278.45 L469 278.55 L470 278.65 L471 278.74 L472 278.84 L473 278.93 L474 279.03 L475 279.12 L476 279.22 L477 279.31 L478 279.4 L479 279.49 L480 279.58 L481 279.68 L482 279.77 L483 279.85 L484 279.94 L485 280.03 L486 280.12 L487 280.2 L488 280.29 L489 280.37 L490 280.45 L491 280.54 L492 280.62 L493 280.7 L494 280.77 L495 280.85 L496 280.93 L497 281 L498 281.07 L499 281.15 L500 281.22 L501 281.29 L502 281.36 L503 281.42 L504 281.49 L505 281.55 L506 281.61 L507 281.67 L508 281.73 L509 281.79 L510 281.84 L511 281.9 L512 281.95 L513 282 L514 282.05 L515 282.11 L516 282.15 L517 282.19 L518 282.2 L519 282.1 L520 281.87 L520.2 281.82 L520.4 281.77 L520.6 281.71 L520.8 281.65 L521 281.6 L521.2 281.54 L521.4 281.48 L521.6 281.42 L521.8 281.35 L522 281.28 L522.2 281.21 L522.4 281.13 L522.6 281.05 L522.8 280.97 L523 280.88 L523.2 280.79 L523.4 280.7 L523.6 280.6 L523.8 280.51 L524 280.41 L524.2 280.3 L524.4 280.2 L524.45 281.5 L524.55 266.67 L524.65 258.25 L524.76 252.38 L524.86 248.7 L524.96 247.41 L525.06 246.58 L525.16 245.91 L525.27 245.4 L525.37 245 L525.47 244.7 L525.57 244.46 L525.67 244.25 L525.78 244.07 L525.88 243.89 L525.98 243.73 L526.08 243.59 L526.18 243.46 L526.29 243.34 L526.39 243.24 L526.49 243.16 L526.59 243.09 L526.69 243.04 L526.8 243 L526.9 242.98 L527 242.95 L528 242.7 L529.01 242.46 L530.01 242.22 L531.02 242 L532.02 241.78 L533.02 241.57 L534.03 241.36 L535.03 241.17 L536.03 240.98 L537.04 240.8 L538.04 240.62 L539.05 240.45 L540.05 240.29 L541.05 240.13 L542.06 239.98 L543.06 239.84 L544.07 239.7 L545.07 239.56 L546.07 239.43 L547.08 239.31 L548.08 239.19 L549.08 239.08 L550.09 238.97 L551.09 238.87 L552.1 238.77 L553.1 238.67 L554.1 238.58 L555.11 238.49 L556.11 238.4 L557.12 238.32 L558.12 238.24 L559.12 238.17 L560.13 238.1 L561.13 238.03 L562.13 237.96 L563.14 237.9 L564.14 237.83 L565.15 237.77 L566.15 237.71 L567.15 237.66 L568.16 237.6 L569.16 237.55 L570.17 237.49 L571.17 237.44 L572.17 237.39 L573.18 237.34 L574.18 237.29 L575.18 237.24 L576.19 237.19 L577.19 237.14 L578.2 237.09 L579.2 237.04 L580.2 236.99 L581.21 236.94 L582.21 236.88 L583.22 236.83 L584.22 236.77 L585.22 236.72 L586.23 236.66 L587.23 236.6 L588.23 236.54 L589.24 236.47 L590.24 236.4 L591.25 236.34 L592.25 236.26 L593.25 236.19 L594.26 236.11 L595.26 236.03 L596.27 235.95 L597.27 235.86 L598.27 235.77 L599.28 235.67 L600.28 235.57 L601.28 235.47 L602.29 235.36 L603.29 235.25 L604.3 235.14 L605.3 235.02 L606.3 234.91 L607.31 234.79 L608.31 234.66 L609.32 234.54 L610.32 234.41 L611.32 234.28 L612.33 234.16 L613.33 234.03 L614.33 233.89 L615.34 233.76 L616.34 233.63 L617.35 233.5 L618.35 233.36 L619.35 233.23 L620.36 233.1 L621.36 232.97 L622.37 232.84 L623.37 232.71 L624.37 232.58 L625.38 232.45 L626.38 232.33 L627.38 232.2 L628.39 232.08 L629.39 231.96 L630.4 231.84 L631.4 231.73 L632.4 231.62 L633.41 231.51 L634.41 231.4 L635.42 231.3 L636.42 231.2 L637.42 231.11 L638.43 231.02 L639.43 230.93 L640.43 230.85 L641.44 230.78 L642.44 230.7 L643.45 230.64 L644.45 230.58 L645.45 230.52 L646.46 230.47 L647.46 230.43 L648.47 230.39 L649.47 230.36 L650.47 230.33 L651.48 230.31 L652.48 230.3 L653.48 230.3 L654.49 230.42 L655.49 230.73 L656.5 231.13 L657.5 231.5" fill="none" stroke="#e8793b" stroke-width="1.6" stroke-dasharray="3.8 5.3" stroke-linecap="round" stroke-linejoin="round"/>
<path d="M389.86 281.12 L389.96 296.33 L390.06 303.63 L390.16 308.74 L390.26 312.45 L390.37 314.63 L390.47 315.55 L390.57 316.28 L390.67 316.92 L390.77 317.46 L390.88 317.94 L390.98 318.34 L391.08 318.68 L391.18 318.97 L391.29 319.22 L391.39 319.43 L391.49 319.62 L391.59 319.79 L391.69 319.95 L391.8 320.1 L391.9 320.25 L392 320.39 L393 321.44 L394 322 L395 322.31 L396 322.55 L397 322.71 L398 322.8 L399 322.85 L400 322.89 L401 322.93 L402 322.97 L403 323.01 L404 323.04 L405 323.07 L406 323.1 L407 323.12 L408 323.15 L409 323.17 L410 323.19 L411 323.2 L412 323.22 L413 323.23 L414 323.25 L415 323.26 L416 323.27 L417 323.28 L418 323.29 L419 323.29 L420 323.3 L421 323.31 L422 323.31 L423 323.32 L424 323.33 L425 323.33 L426 323.34 L427 323.35 L428 323.35 L429 323.36 L430 323.36 L431 323.37 L432 323.38 L433 323.38 L434 323.39 L435 323.39 L436 323.4 L437 323.4 L438 323.41 L439 323.42 L440 323.42 L441 323.43 L442 323.43 L443 323.44 L444 323.44 L445 323.45 L446 323.45 L447 323.46 L448 323.46 L449 323.46 L450 323.47 L451 323.47 L452 323.48 L453 323.48 L454 323.49 L455 323.49 L456 323.49 L457 323.5 L458 323.5 L459 323.51 L460 323.51 L461 323.51 L462 323.52 L463 323.52 L464 323.52 L465 323.53 L466 323.53 L467 323.53 L468 323.54 L469 323.54 L470 323.54 L471 323.55 L472 323.55 L473 323.55 L474 323.55 L475 323.56 L476 323.56 L477 323.56 L478 323.56 L479 323.57 L480 323.57 L481 323.57 L482 323.57 L483 323.57 L484 323.58 L485 323.58 L486 323.58 L487 323.58 L488 323.58 L489 323.58 L490 323.59 L491 323.59 L492 323.59 L493 323.59 L494 323.59 L495 323.59 L496 323.59 L497 323.59 L498 323.59 L499 323.6 L500 323.6 L501 323.6 L502 323.6 L503 323.6 L504 323.6 L505 323.6 L506 323.6 L507 323.6 L508 323.6 L509 323.6 L510 323.6 L511 323.59 L512 323.55 L513 323.49 L514 323.41 L515 323.31 L516 323.19 L517 323.06 L518 322.92 L519 322.77 L520 322.53 L520.2 322.47 L520.4 322.41 L520.6 322.34 L520.8 322.28 L521 322.2 L521.2 322.13 L521.4 322.05 L521.6 321.97 L521.8 321.89 L522 321.81 L522.2 321.73 L522.4 321.64 L522.6 321.56 L522.8 321.46 L523 321.36 L523.2 321.25 L523.4 321.14 L523.6 321.02 L523.8 320.89 L524 320.76 L524.2 320.63 L524.4 320.5 L524.45 320.5 L524.55 304.44 L524.65 297.15 L524.76 293.09 L524.86 290.6 L524.96 289.33 L525.06 288.34 L525.16 287.52 L525.27 286.86 L525.37 286.33 L525.47 285.94 L525.57 285.66 L525.67 285.46 L525.78 285.27 L525.88 285.1 L525.98 284.94 L526.08 284.78 L526.18 284.64 L526.29 284.51 L526.39 284.39 L526.49 284.28 L526.59 284.18 L526.69 284.08 L526.8 284 L526.9 283.93 L527 283.87 L528 283.64 L529.01 283.56 L530.01 283.52 L531.02 283.5 L532.02 283.5 L533.02 283.5 L534.03 283.5 L535.03 283.5 L536.03 283.5 L537.04 283.5 L538.04 283.5 L539.05 283.5 L540.05 283.5 L541.05 283.5 L542.06 283.5 L543.06 283.5 L544.07 283.5 L545.07 283.5 L546.07 283.5 L547.08 283.5 L548.08 283.5 L549.08 283.5 L550.09 283.5 L551.09 283.5 L552.1 283.5 L553.1 283.5 L554.1 283.5 L555.11 283.5 L556.11 283.5 L557.12 283.5 L558.12 283.5 L559.12 283.5 L560.13 283.5 L561.13 283.5 L562.13 283.5 L563.14 283.51 L564.14 283.51 L565.15 283.51 L566.15 283.51 L567.15 283.51 L568.16 283.51 L569.16 283.51 L570.17 283.51 L571.17 283.51 L572.17 283.51 L573.18 283.51 L574.18 283.51 L575.18 283.51 L576.19 283.51 L577.19 283.51 L578.2 283.51 L579.2 283.51 L580.2 283.51 L581.21 283.51 L582.21 283.52 L583.22 283.52 L584.22 283.52 L585.22 283.52 L586.23 283.52 L587.23 283.52 L588.23 283.52 L589.24 283.52 L590.24 283.52 L591.25 283.52 L592.25 283.52 L593.25 283.52 L594.26 283.53 L595.26 283.53 L596.27 283.53 L597.27 283.53 L598.27 283.53 L599.28 283.53 L600.28 283.53 L601.28 283.53 L602.29 283.53 L603.29 283.54 L604.3 283.54 L605.3 283.54 L606.3 283.54 L607.31 283.54 L608.31 283.54 L609.32 283.54 L610.32 283.54 L611.32 283.55 L612.33 283.55 L613.33 283.55 L614.33 283.55 L615.34 283.55 L616.34 283.55 L617.35 283.56 L618.35 283.56 L619.35 283.56 L620.36 283.56 L621.36 283.56 L622.37 283.56 L623.37 283.57 L624.37 283.57 L625.38 283.57 L626.38 283.57 L627.38 283.57 L628.39 283.57 L629.39 283.58 L630.4 283.58 L631.4 283.58 L632.4 283.58 L633.41 283.59 L634.41 283.59 L635.42 283.59 L636.42 283.59 L637.42 283.59 L638.43 283.6 L639.43 283.6 L640.43 283.6 L641.44 283.61 L642.44 283.64 L643.45 283.67 L644.45 283.71 L645.45 283.76 L646.46 283.82 L647.46 283.88 L648.47 283.94 L649.47 284.01 L650.47 284.09 L651.48 284.16 L652.48 284.24 L653.48 284.31 L654.49 284.39 L655.49 284.46 L656.5 284.53 L657.5 284.6" fill="none" stroke="#1cafea" stroke-width="1.6" stroke-dasharray="3.8 5.3" stroke-linecap="round" stroke-linejoin="round"/>
<text transform="translate(360.2 211.1) scale(1.1 1)" font-size="12.5" font-weight="bold" fill="#000">c</text>
<text x="453.4" y="222" font-size="9.1" text-anchor="middle" fill="#222"  stroke="#222" stroke-width="0.12">Charging step</text>
<text x="590.5" y="222.4" font-size="9.1" text-anchor="middle" fill="#222"  stroke="#222" stroke-width="0.12">Discharge step</text>
<text x="523.5" y="397.6" font-size="8.8" text-anchor="middle" fill="#222"  stroke="#222" stroke-width="0.12">Time (s)</text>
<text transform="translate(369.3 290) rotate(-90)" font-size="9.2" fill="#222" text-anchor="middle">Average electric potential (<tspan font-style="italic">V</tspan><tspan font-size="5.6" dy="1.5">T</tspan><tspan dy="-1.5">)</tspan></text>
<linearGradient id="gc1" x1="0" y1="277.2" x2="0" y2="321.9" gradientUnits="userSpaceOnUse"><stop offset="0" stop-color="#e96a50"/><stop offset="1" stop-color="#5a9fd8"/></linearGradient>
<path d="M448.1 281.5 L448.1 317.6" stroke="url(#gc1)" stroke-width="1.4"/>
<path d="M445.8 282 L448.1 277.2 L450.4 282 Z" fill="#e96a50"/>
<path d="M445.8 317.1 L448.1 321.9 L450.4 317.1 Z" fill="#5a9fd8"/>
<linearGradient id="gc2" x1="0" y1="239.5" x2="0" y2="289" gradientUnits="userSpaceOnUse"><stop offset="0" stop-color="#dc6236"/><stop offset="1" stop-color="#4a2412"/></linearGradient>
<path d="M558.9 243.8 L558.9 284.7" stroke="url(#gc2)" stroke-width="1.4"/>
<path d="M556.6 244.3 L558.9 239.5 L561.2 244.3 Z" fill="#dc6236"/>
<path d="M556.6 284.2 L558.9 289 L561.2 284.2 Z" fill="#4a2412"/>
<text transform="translate(408.8 267.85) scale(1.3 1)" font-size="7.23" font-style="italic" fill="#222" stroke="#222" stroke-width="0.2">ϕ</text>
<text x="414.13" y="270.5" font-size="5.6" fill="#333">pore</text>
<text x="452.69" y="300.2" font-size="7" fill="#222" stroke="#222" stroke-width="0.3">Δ</text>
<text transform="translate(457.16 300.55) scale(1.3 1)" font-size="7.23" font-style="italic" fill="#222" stroke="#222" stroke-width="0.2">ϕ</text>
<text x="462.48" y="303.9" font-size="5.4" fill="#333">D,CEP/pore</text>
<text x="528.19" y="263.1" font-size="7" fill="#222" stroke="#222" stroke-width="0.3">Δ</text>
<text transform="translate(532.66 263.45) scale(1.3 1)" font-size="7.23" font-style="italic" fill="#222" stroke="#222" stroke-width="0.2">ϕ</text>
<text x="537.98" y="266.6" font-size="5.2" fill="#333">S</text>
<text transform="translate(406.7 332.15) scale(1.3 1)" font-size="7.23" font-style="italic" fill="#222" stroke="#222" stroke-width="0.2">ϕ</text>
<text x="412.03" y="334.6" font-size="4.8" fill="#333">CEP</text>
<text transform="translate(463.6 338.35) scale(1.3 1)" font-size="7.23" font-style="italic" fill="#222" stroke="#222" stroke-width="0.2">ϕ</text>
<text x="468.93" y="340.9" font-size="5.6" fill="#333">carbon</text>
</svg></body></html>
